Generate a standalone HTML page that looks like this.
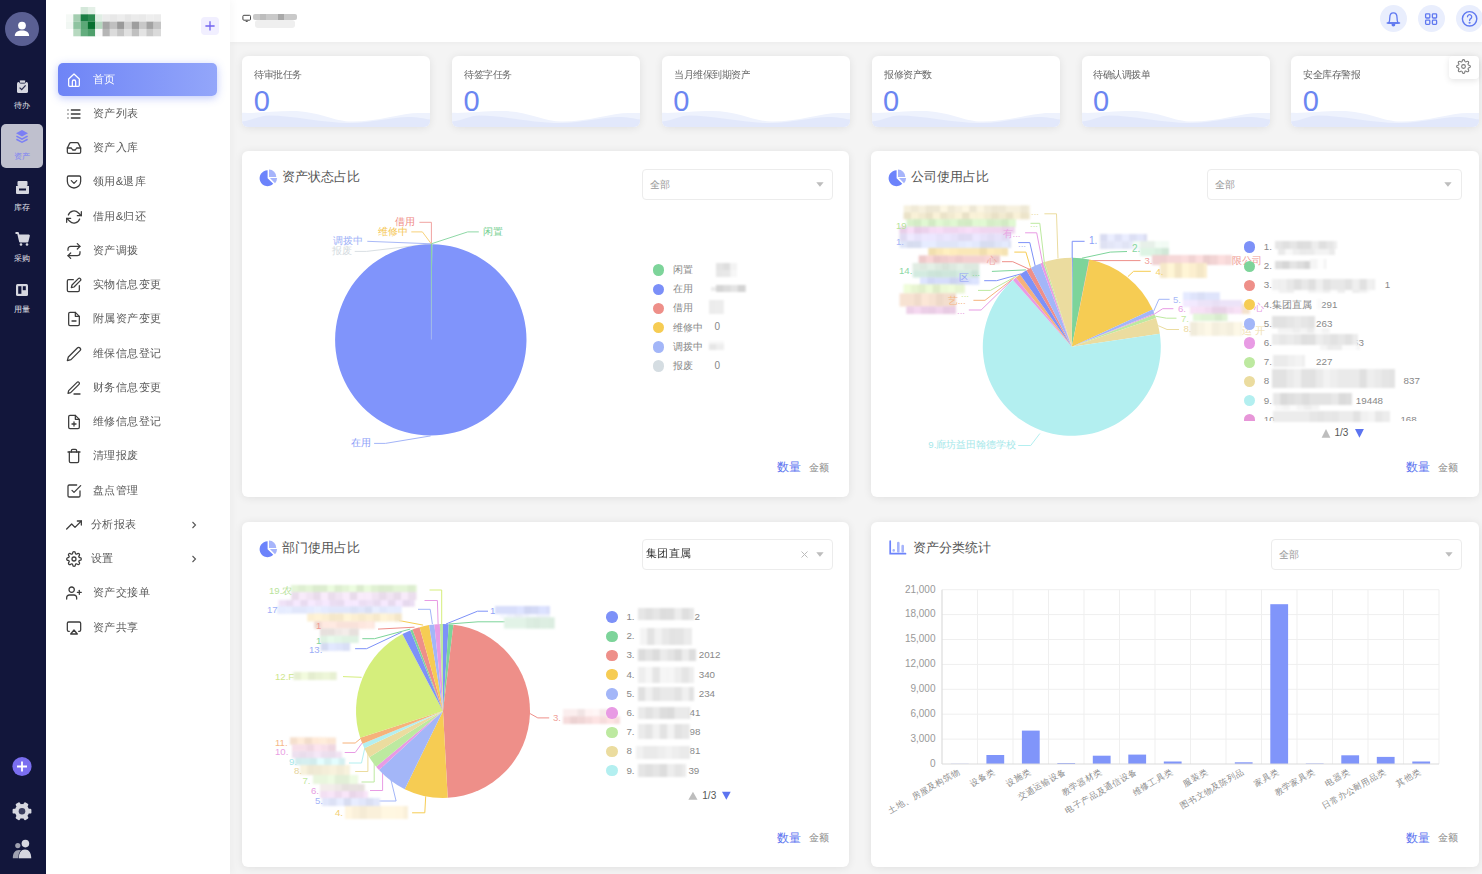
<!DOCTYPE html><html><head><meta charset="utf-8"><style>
*{box-sizing:border-box;margin:0;padding:0}
html,body{width:1482px;height:874px;overflow:hidden}
body{background:#f4f4f4;font-family:"Liberation Sans",sans-serif;position:relative}
.a{position:absolute}
.t{position:absolute;line-height:1;white-space:nowrap}
.rail{left:0;top:0;width:46px;height:874px;background:#12163b}
.side{left:46px;top:0;width:183.5px;height:874px;background:#fff;box-shadow:2px 0 8px rgba(0,0,0,0.035)}
.hdr{left:229.5px;top:0;width:1252.5px;height:42px;background:#fff;box-shadow:0 1px 5px rgba(0,0,0,0.04)}
.card{position:absolute;background:#fff;border-radius:6px;box-shadow:0 1px 9px rgba(0,0,0,0.085)}
.blob{position:absolute;filter:blur(1.2px)}
</style></head><body><div class="a hdr"></div><svg class="a" style="left:241px;top:13px" width="12" height="10" viewBox="0 0 12 10"><rect x="1.9" y="2.3" width="7.6" height="4.9" rx="1" fill="none" stroke="#444" stroke-width="1"/><path d="M4.7,8.4 H6.7" stroke="#444" stroke-width="1"/></svg><svg class="a" style="left:252px;top:13px;filter:blur(0.7px)" width="46" height="17" viewBox="0 0 46 17">
<rect x="1" y="1" width="44" height="6" rx="2" fill="#c9c9c9"/><rect x="8" y="1" width="6" height="6" fill="#bdbdbd"/><rect x="26" y="1" width="6" height="6" fill="#a8a8a8"/>
<rect x="3" y="7" width="40" height="8" rx="3" fill="#efefef"/></svg><div class="a" style="left:1379.9px;top:5.2px;width:27px;height:27px;border-radius:50%;background:#e9eefd"></div><div class="a" style="left:1417.8px;top:5.2px;width:27px;height:27px;border-radius:50%;background:#e9eefd"></div><div class="a" style="left:1456.2px;top:5.2px;width:27px;height:27px;border-radius:50%;background:#e9eefd"></div><svg class="a" style="left:1380px;top:5px" width="102" height="28" viewBox="1380 5 102 28" fill="none" stroke="#5f78f0" stroke-width="1.3" stroke-linecap="round" stroke-linejoin="round">
<path d="M1388.6,23 C1389.8,21.5 1389.8,20 1389.8,17.5 C1389.8,14.6 1391.3,12.8 1393.4,12.8 C1395.5,12.8 1397,14.6 1397,17.5 C1397,20 1397,21.5 1398.2,23 Z"/>
<path d="M1387.2,23 H1399.6"/><path d="M1392.1,24.6 a1.3,1.3 0 0 0 2.6,0 Z" fill="#5f78f0"/>
<rect x="1425.6" y="13.8" width="4.2" height="4.2" rx="0.8"/><rect x="1432.4" y="13.8" width="4.2" height="4.2" rx="0.8"/>
<rect x="1425.6" y="20.2" width="4.2" height="4.2" rx="0.8"/><rect x="1432.4" y="20.2" width="4.2" height="4.2" rx="0.8"/>
<circle cx="1469.6" cy="18.8" r="7.2" stroke-width="1.4"/>
<path d="M1467.5,16.8 a2.1,2.1 0 1 1 3.2,1.8 c-0.8,0.5 -1.1,0.9 -1.1,1.8"/>
<circle cx="1469.6" cy="22.7" r="0.4" fill="#5f78f0"/>
</svg><div class="a rail"></div><svg class="a" style="left:0;top:0" width="46" height="874" viewBox="0 0 46 874">
<circle cx="22" cy="29" r="17" fill="#5a5f93"/>
<circle cx="22" cy="25.6" r="3.9" fill="#fff"/>
<path d="M14.8,36 C14.8,32 18,30.5 22,30.5 C26,30.5 29.1,32 29.1,36 Z" fill="#fff"/>
<!-- clipboard -->
<rect x="17" y="82" width="11" height="11" rx="1.6" fill="#d6d7e0"/>
<rect x="19.5" y="80" width="6" height="3.2" rx="1" fill="#d6d7e0" stroke="#12163b" stroke-width="0.8"/>
<path d="M19.6,87.6 L21.7,89.6 L25.6,85.4" stroke="#2a2d4f" stroke-width="1.3" fill="none"/>
<!-- active box -->
<rect x="1" y="124" width="42" height="44" rx="5" fill="#bfc0ce"/>
<path d="M22,130 L28,133.2 L22,136.4 L16,133.2 Z" fill="#7b7ff5"/>
<path d="M16.8,135.4 L22,138.2 L27.2,135.4 L28,136.8 L22,140 L16,136.8 Z" fill="#7b7ff5"/>
<path d="M16.8,138.6 L22,141.4 L27.2,138.6 L28,140 L22,143 L16,140 Z" fill="#7b7ff5"/>
<!-- inbox -->
<rect x="17.5" y="181" width="10" height="5" rx="1" fill="#d6d7e0"/>
<path d="M16,186 H29 V193 a1,1 0 0 1 -1,1 H17 a1,1 0 0 1 -1,-1 Z" fill="#d6d7e0"/>
<rect x="19" y="188.5" width="7" height="2" fill="#12163b"/>
<!-- cart -->
<path d="M15.5,233 H18 L20,241.5 H27.5 L29,235.5 H19" stroke="#d6d7e0" stroke-width="1.8" fill="none" stroke-linejoin="round"/>
<path d="M18.8,235.5 H29 L27.6,241.5 H20 Z" fill="#d6d7e0"/>
<circle cx="21" cy="244.5" r="1.3" fill="#d6d7e0"/>
<circle cx="27" cy="244.5" r="1.3" fill="#d6d7e0"/>
<!-- board -->
<rect x="16" y="284" width="12" height="12" rx="1.5" fill="#d6d7e0"/>
<rect x="18.2" y="286.2" width="3.2" height="7.6" fill="#12163b"/>
<rect x="22.8" y="286.2" width="3" height="4" fill="#12163b"/>
<!-- bottom -->
<circle cx="22" cy="766.5" r="9.6" fill="#7a6ef0"/>
<path d="M22,761.5 V771.5 M17,766.5 H27" stroke="#fff" stroke-width="1.8"/>
<g fill="#d6d7e0" transform="translate(22,811.2) rotate(30)">
<circle cx="0" cy="0" r="7.2"/>
<rect x="-2.4" y="-9.4" width="4.8" height="4" rx="1.2"/>
<rect x="-2.4" y="-9.4" width="4.8" height="4" rx="1.2" transform="rotate(60)"/>
<rect x="-2.4" y="-9.4" width="4.8" height="4" rx="1.2" transform="rotate(120)"/>
<rect x="-2.4" y="-9.4" width="4.8" height="4" rx="1.2" transform="rotate(180)"/>
<rect x="-2.4" y="-9.4" width="4.8" height="4" rx="1.2" transform="rotate(240)"/>
<rect x="-2.4" y="-9.4" width="4.8" height="4" rx="1.2" transform="rotate(300)"/>
</g>
<circle cx="22" cy="811.2" r="3.3" fill="#3a3d5e"/>
<circle cx="17.8" cy="845.6" r="2.6" fill="#9fa1b0"/>
<path d="M12.8,858.2 C12.8,853 15,850 19,850 C21,850 22.5,851 23,852 L20,858.2 Z" fill="#9fa1b0"/>
<path d="M18.8,858.2 C18.8,852.6 21.4,849.4 25,849.4 C28.6,849.4 31.2,852.6 31.2,858.2 Z" fill="#d6d7e0" stroke="#12163b" stroke-width="1.2"/>
<path d="M18.8,858.2 C18.8,852.6 21.4,849.4 25,849.4 C28.6,849.4 31.2,852.6 31.2,858.2 Z" fill="#d6d7e0"/>
<circle cx="25.4" cy="843.6" r="3.8" fill="#d6d7e0"/>
</svg><div class="t" style="left:14px;top:102.2px;font-size:8px;color:#e3e4ec;width:18px;letter-spacing:0">待办</div><div class="t" style="left:14px;top:153px;font-size:8px;color:#7b7ff5;width:18px;letter-spacing:0">资产</div><div class="t" style="left:14px;top:203.6px;font-size:8px;color:#e3e4ec;width:18px;letter-spacing:0">库存</div><div class="t" style="left:14px;top:255.2px;font-size:8px;color:#e3e4ec;width:18px;letter-spacing:0">采购</div><div class="t" style="left:14px;top:305.8px;font-size:8px;color:#e3e4ec;width:18px;letter-spacing:0">用量</div><div class="a side"></div><svg class="a" style="left:66px;top:7.3px;filter:blur(0.5px)" width="96" height="30" viewBox="0 0 96 30"><rect x="14.6" y="0.0" width="7.4" height="7.4" fill="#d4e8da"/><rect x="21.9" y="0.0" width="7.4" height="7.4" fill="#e4f0e7"/><rect x="0.0" y="7.3" width="7.4" height="7.4" fill="#f5f9f6"/><rect x="7.3" y="7.3" width="7.4" height="7.4" fill="#a3cdb0"/><rect x="14.6" y="7.3" width="7.4" height="7.4" fill="#1b7e44"/><rect x="21.9" y="7.3" width="7.4" height="7.4" fill="#2d8b52"/><rect x="29.2" y="7.3" width="7.4" height="7.4" fill="#e0eee4"/><rect x="36.5" y="7.3" width="7.4" height="7.4" fill="#ececec"/><rect x="43.8" y="7.3" width="7.4" height="7.4" fill="#e8e8e8"/><rect x="51.1" y="7.3" width="7.4" height="7.4" fill="#ededed"/><rect x="58.4" y="7.3" width="7.4" height="7.4" fill="#e6e6e6"/><rect x="65.7" y="7.3" width="7.4" height="7.4" fill="#ebebeb"/><rect x="73.0" y="7.3" width="7.4" height="7.4" fill="#e9e9e9"/><rect x="80.3" y="7.3" width="7.4" height="7.4" fill="#eeeeee"/><rect x="87.6" y="7.3" width="7.4" height="7.4" fill="#ececec"/><rect x="0.0" y="14.6" width="7.4" height="7.4" fill="#f1f7f3"/><rect x="7.3" y="14.6" width="7.4" height="7.4" fill="#8ec3a0"/><rect x="14.6" y="14.6" width="7.4" height="7.4" fill="#5ba877"/><rect x="21.9" y="14.6" width="7.4" height="7.4" fill="#07702f"/><rect x="29.2" y="14.6" width="7.4" height="7.4" fill="#b5d8bf"/><rect x="36.5" y="14.6" width="7.4" height="7.4" fill="#a5a5a5"/><rect x="43.8" y="14.6" width="7.4" height="7.4" fill="#c0c0c0"/><rect x="51.1" y="14.6" width="7.4" height="7.4" fill="#9a9a9a"/><rect x="58.4" y="14.6" width="7.4" height="7.4" fill="#cfcfcf"/><rect x="65.7" y="14.6" width="7.4" height="7.4" fill="#9e9e9e"/><rect x="73.0" y="14.6" width="7.4" height="7.4" fill="#c8c8c8"/><rect x="80.3" y="14.6" width="7.4" height="7.4" fill="#a3a3a3"/><rect x="87.6" y="14.6" width="7.4" height="7.4" fill="#c5c5c5"/><rect x="7.3" y="21.9" width="7.4" height="7.4" fill="#b7d9c0"/><rect x="14.6" y="21.9" width="7.4" height="7.4" fill="#63ad7e"/><rect x="21.9" y="21.9" width="7.4" height="7.4" fill="#4e9f6b"/><rect x="29.2" y="21.9" width="7.4" height="7.4" fill="#f8f8f8"/><rect x="36.5" y="21.9" width="7.4" height="7.4" fill="#b5b5b5"/><rect x="43.8" y="21.9" width="7.4" height="7.4" fill="#dbdbdb"/><rect x="51.1" y="21.9" width="7.4" height="7.4" fill="#c5c5c5"/><rect x="58.4" y="21.9" width="7.4" height="7.4" fill="#e0e0e0"/><rect x="65.7" y="21.9" width="7.4" height="7.4" fill="#c0c0c0"/><rect x="73.0" y="21.9" width="7.4" height="7.4" fill="#e3e3e3"/><rect x="80.3" y="21.9" width="7.4" height="7.4" fill="#c9c9c9"/><rect x="87.6" y="21.9" width="7.4" height="7.4" fill="#dadada"/></svg><div class="a" style="left:201px;top:17px;width:17.5px;height:18px;background:#f1efff;border-radius:4px"></div><svg class="a" style="left:201px;top:17px" width="18" height="18" viewBox="0 0 18 18"><path d="M9,4.3V13.5M4.4,9H13.6" stroke="#7264ef" stroke-width="1.3"/></svg><div class="a" style="left:58px;top:63px;width:159px;height:33px;border-radius:5px;background:linear-gradient(90deg,#6e84f6,#93a6fa);box-shadow:0 2px 9px rgba(110,132,246,0.45)"></div><svg class="a" style="left:65.5px;top:71.7px" width="16" height="16" viewBox="0 0 24 24" fill="none" stroke="#fff" stroke-width="1.9" stroke-linecap="round" stroke-linejoin="round"><path d="M4 10.5L12 3l8 7.5V20a1.5 1.5 0 0 1-1.5 1.5h-13A1.5 1.5 0 0 1 4 20z"/><path d="M9.5 21.5V14.5a2.5 2.5 0 0 1 5 0v7"/></svg><div class="t" style="left:93px;top:72.7px;font-size:12px;color:#fff;transform:scale(0.95);transform-origin:0 0">首页</div><svg class="a" style="left:65.5px;top:105.9px" width="16" height="16" viewBox="0 0 24 24" fill="none" stroke="#3c3c3c" stroke-width="1.9" stroke-linecap="round" stroke-linejoin="round"><line x1="8" y1="6" x2="21" y2="6"/><line x1="8" y1="12" x2="21" y2="12"/><line x1="8" y1="18" x2="21" y2="18"/><line x1="3" y1="6" x2="3.01" y2="6"/><line x1="3" y1="12" x2="3.01" y2="12"/><line x1="3" y1="18" x2="3.01" y2="18"/></svg><div class="t" style="left:93px;top:106.9px;font-size:12px;color:#5a5a5a;transform:scale(0.95);transform-origin:0 0">资产列表</div><svg class="a" style="left:65.5px;top:140.2px" width="16" height="16" viewBox="0 0 24 24" fill="none" stroke="#3c3c3c" stroke-width="1.9" stroke-linecap="round" stroke-linejoin="round"><polyline points="22 12 16 12 14 15 10 15 8 12 2 12"/><path d="M5.45 5.11L2 12v6a2 2 0 0 0 2 2h16a2 2 0 0 0 2-2v-6l-3.45-6.89A2 2 0 0 0 16.76 4H7.24a2 2 0 0 0-1.79 1.11z"/></svg><div class="t" style="left:93px;top:141.2px;font-size:12px;color:#5a5a5a;transform:scale(0.95);transform-origin:0 0">资产入库</div><svg class="a" style="left:65.5px;top:174.4px" width="16" height="16" viewBox="0 0 24 24" fill="none" stroke="#3c3c3c" stroke-width="1.9" stroke-linecap="round" stroke-linejoin="round"><path d="M4 3h16a2 2 0 0 1 2 2v6a10 10 0 0 1-10 10A10 10 0 0 1 2 11V5a2 2 0 0 1 2-2z"/><polyline points="8 10 12 14 16 10"/></svg><div class="t" style="left:93px;top:175.4px;font-size:12px;color:#5a5a5a;transform:scale(0.95);transform-origin:0 0">领用&amp;退库</div><svg class="a" style="left:65.5px;top:208.7px" width="16" height="16" viewBox="0 0 24 24" fill="none" stroke="#3c3c3c" stroke-width="1.9" stroke-linecap="round" stroke-linejoin="round"><polyline points="23 4 23 10 17 10"/><polyline points="1 20 1 14 7 14"/><path d="M3.51 9a9 9 0 0 1 14.85-3.36L23 10M1 14l4.64 4.36A9 9 0 0 0 20.49 15"/></svg><div class="t" style="left:93px;top:209.7px;font-size:12px;color:#5a5a5a;transform:scale(0.95);transform-origin:0 0">借用&amp;归还</div><svg class="a" style="left:65.5px;top:242.9px" width="16" height="16" viewBox="0 0 24 24" fill="none" stroke="#3c3c3c" stroke-width="1.9" stroke-linecap="round" stroke-linejoin="round"><polyline points="17 1 21 5 17 9"/><path d="M3 11V9a4 4 0 0 1 4-4h14"/><polyline points="7 23 3 19 7 15"/><path d="M21 13v2a4 4 0 0 1-4 4H3"/></svg><div class="t" style="left:93px;top:243.9px;font-size:12px;color:#5a5a5a;transform:scale(0.95);transform-origin:0 0">资产调拨</div><svg class="a" style="left:65.5px;top:277.1px" width="16" height="16" viewBox="0 0 24 24" fill="none" stroke="#3c3c3c" stroke-width="1.9" stroke-linecap="round" stroke-linejoin="round"><path d="M11 4H4a2 2 0 0 0-2 2v14a2 2 0 0 0 2 2h14a2 2 0 0 0 2-2v-7"/><path d="M18.5 2.5a2.121 2.121 0 0 1 3 3L12 15l-4 1 1-4 9.5-9.5z"/></svg><div class="t" style="left:93px;top:278.1px;font-size:12px;color:#5a5a5a;transform:scale(0.95);transform-origin:0 0">实物信息变更</div><svg class="a" style="left:65.5px;top:311.4px" width="16" height="16" viewBox="0 0 24 24" fill="none" stroke="#3c3c3c" stroke-width="1.9" stroke-linecap="round" stroke-linejoin="round"><path d="M14 2H6a2 2 0 0 0-2 2v16a2 2 0 0 0 2 2h12a2 2 0 0 0 2-2V8z"/><polyline points="14 2 14 8 20 8"/><line x1="9" y1="15" x2="15" y2="15"/></svg><div class="t" style="left:93px;top:312.4px;font-size:12px;color:#5a5a5a;transform:scale(0.95);transform-origin:0 0">附属资产变更</div><svg class="a" style="left:65.5px;top:345.6px" width="16" height="16" viewBox="0 0 24 24" fill="none" stroke="#3c3c3c" stroke-width="1.9" stroke-linecap="round" stroke-linejoin="round"><path d="M17 3a2.828 2.828 0 1 1 4 4L7.5 20.5 2 22l1.5-5.5L17 3z"/></svg><div class="t" style="left:93px;top:346.6px;font-size:12px;color:#5a5a5a;transform:scale(0.95);transform-origin:0 0">维保信息登记</div><svg class="a" style="left:65.5px;top:379.9px" width="16" height="16" viewBox="0 0 24 24" fill="none" stroke="#3c3c3c" stroke-width="1.9" stroke-linecap="round" stroke-linejoin="round"><path d="M12 21h9"/><path d="M16.5 3.5a2.121 2.121 0 0 1 3 3L7 19l-4 1 1-4L16.5 3.5z"/></svg><div class="t" style="left:93px;top:380.9px;font-size:12px;color:#5a5a5a;transform:scale(0.95);transform-origin:0 0">财务信息变更</div><svg class="a" style="left:65.5px;top:414.1px" width="16" height="16" viewBox="0 0 24 24" fill="none" stroke="#3c3c3c" stroke-width="1.9" stroke-linecap="round" stroke-linejoin="round"><path d="M14 2H6a2 2 0 0 0-2 2v16a2 2 0 0 0 2 2h12a2 2 0 0 0 2-2V8z"/><polyline points="14 2 14 8 20 8"/><line x1="12" y1="18" x2="12" y2="12"/><line x1="9" y1="15" x2="15" y2="15"/></svg><div class="t" style="left:93px;top:415.1px;font-size:12px;color:#5a5a5a;transform:scale(0.95);transform-origin:0 0">维修信息登记</div><svg class="a" style="left:65.5px;top:448.3px" width="16" height="16" viewBox="0 0 24 24" fill="none" stroke="#3c3c3c" stroke-width="1.9" stroke-linecap="round" stroke-linejoin="round"><path d="M3 6h18"/><path d="M19 6v14a2 2 0 0 1-2 2H7a2 2 0 0 1-2-2V6m3 0V4a2 2 0 0 1 2-2h4a2 2 0 0 1 2 2v2"/></svg><div class="t" style="left:93px;top:449.3px;font-size:12px;color:#5a5a5a;transform:scale(0.95);transform-origin:0 0">清理报废</div><svg class="a" style="left:65.5px;top:482.6px" width="16" height="16" viewBox="0 0 24 24" fill="none" stroke="#3c3c3c" stroke-width="1.9" stroke-linecap="round" stroke-linejoin="round"><polyline points="9 11 12 14 22 4"/><path d="M21 12v7a2 2 0 0 1-2 2H5a2 2 0 0 1-2-2V5a2 2 0 0 1 2-2h11"/></svg><div class="t" style="left:93px;top:483.6px;font-size:12px;color:#5a5a5a;transform:scale(0.95);transform-origin:0 0">盘点管理</div><svg class="a" style="left:65.5px;top:516.8px" width="16" height="16" viewBox="0 0 24 24" fill="none" stroke="#3c3c3c" stroke-width="1.9" stroke-linecap="round" stroke-linejoin="round"><polyline points="23 6 13.5 15.5 8.5 10.5 1 18"/><polyline points="17 6 23 6 23 12"/></svg><div class="t" style="left:90.5px;top:517.8px;font-size:12px;color:#5a5a5a;transform:scale(0.95);transform-origin:0 0">分析报表</div><svg class="a" style="left:190px;top:519.8px" width="8" height="10" viewBox="0 0 8 10"><path d="M2.5,2 L5.5,5 L2.5,8" stroke="#555" stroke-width="1.1" fill="none"/></svg><svg class="a" style="left:65.5px;top:551.1px" width="16" height="16" viewBox="0 0 24 24" fill="none" stroke="#3c3c3c" stroke-width="1.9" stroke-linecap="round" stroke-linejoin="round"><circle cx="12" cy="12" r="3"/><path d="M19.4 15a1.65 1.65 0 0 0 .33 1.82l.06.06a2 2 0 0 1 0 2.83 2 2 0 0 1-2.83 0l-.06-.06a1.65 1.65 0 0 0-1.82-.33 1.65 1.65 0 0 0-1 1.51V21a2 2 0 0 1-2 2 2 2 0 0 1-2-2v-.09A1.65 1.65 0 0 0 9 19.4a1.65 1.65 0 0 0-1.82.33l-.06.06a2 2 0 0 1-2.83 0 2 2 0 0 1 0-2.83l.06-.06a1.65 1.65 0 0 0 .33-1.82 1.65 1.65 0 0 0-1.51-1H3a2 2 0 0 1-2-2 2 2 0 0 1 2-2h.09A1.65 1.65 0 0 0 4.6 9a1.65 1.65 0 0 0-.33-1.82l-.06-.06a2 2 0 0 1 0-2.83 2 2 0 0 1 2.83 0l.06.06a1.65 1.65 0 0 0 1.82.33H9a1.65 1.65 0 0 0 1-1.51V3a2 2 0 0 1 2-2 2 2 0 0 1 2 2v.09a1.65 1.65 0 0 0 1 1.51 1.65 1.65 0 0 0 1.82-.33l.06-.06a2 2 0 0 1 2.83 0 2 2 0 0 1 0 2.83l-.06.06a1.65 1.65 0 0 0-.33 1.82V9a1.65 1.65 0 0 0 1.51 1H21a2 2 0 0 1 2 2 2 2 0 0 1-2 2h-.09a1.65 1.65 0 0 0-1.51 1z"/></svg><div class="t" style="left:90.5px;top:552.1px;font-size:12px;color:#5a5a5a;transform:scale(0.95);transform-origin:0 0">设置</div><svg class="a" style="left:190px;top:554.1px" width="8" height="10" viewBox="0 0 8 10"><path d="M2.5,2 L5.5,5 L2.5,8" stroke="#555" stroke-width="1.1" fill="none"/></svg><svg class="a" style="left:65.5px;top:585.3px" width="16" height="16" viewBox="0 0 24 24" fill="none" stroke="#3c3c3c" stroke-width="1.9" stroke-linecap="round" stroke-linejoin="round"><path d="M16 21v-2a4 4 0 0 0-4-4H5a4 4 0 0 0-4 4v2"/><circle cx="8.5" cy="7" r="4"/><line x1="20" y1="8" x2="20" y2="14"/><line x1="23" y1="11" x2="17" y2="11"/></svg><div class="t" style="left:93px;top:586.3px;font-size:12px;color:#5a5a5a;transform:scale(0.95);transform-origin:0 0">资产交接单</div><svg class="a" style="left:65.5px;top:619.5px" width="16" height="16" viewBox="0 0 24 24" fill="none" stroke="#3c3c3c" stroke-width="1.9" stroke-linecap="round" stroke-linejoin="round"><path d="M5 17H4a2 2 0 0 1-2-2V5a2 2 0 0 1 2-2h16a2 2 0 0 1 2 2v10a2 2 0 0 1-2 2h-1"/><polygon points="12 15 17 21 7 21 12 15"/></svg><div class="t" style="left:93px;top:620.5px;font-size:12px;color:#5a5a5a;transform:scale(0.95);transform-origin:0 0">资产共享</div><div class="card" style="left:242.4px;top:56px;width:188px;height:70.8px;overflow:hidden;border-radius:6px"><svg style="position:absolute;left:0;top:0" width="188" height="71" viewBox="0 0 188 71" preserveAspectRatio="none"><path d="M0,56.8 C14,57.5 30,55 50,55 C76,55 92,65.6 110,65.6 C136,65.6 160,57 177,57 L188,57 V71 H0 Z" fill="#eef2fd"/><path d="M0,65.6 C10,64.5 18,59.5 27,59.5 C50,59.5 82,67 108,67 C130,67 150,61 166,61 C176,61 182,62.5 188,63.6 V71 H0 Z" fill="#e2e8fb"/></svg><div class="t" style="left:11.9px;top:13.9px;font-size:10px;color:#666;transform:scale(0.95);transform-origin:0 0">待审批任务</div><div class="t" style="left:11.3px;top:30.9px;font-size:29px;color:#6b86f1;">0</div></div><div class="card" style="left:452.2px;top:56px;width:188px;height:70.8px;overflow:hidden;border-radius:6px"><svg style="position:absolute;left:0;top:0" width="188" height="71" viewBox="0 0 188 71" preserveAspectRatio="none"><path d="M0,56.8 C14,57.5 30,55 50,55 C76,55 92,65.6 110,65.6 C136,65.6 160,57 177,57 L188,57 V71 H0 Z" fill="#eef2fd"/><path d="M0,65.6 C10,64.5 18,59.5 27,59.5 C50,59.5 82,67 108,67 C130,67 150,61 166,61 C176,61 182,62.5 188,63.6 V71 H0 Z" fill="#e2e8fb"/></svg><div class="t" style="left:11.9px;top:13.9px;font-size:10px;color:#666;transform:scale(0.95);transform-origin:0 0">待签字任务</div><div class="t" style="left:11.3px;top:30.9px;font-size:29px;color:#6b86f1;">0</div></div><div class="card" style="left:662.0px;top:56px;width:188px;height:70.8px;overflow:hidden;border-radius:6px"><svg style="position:absolute;left:0;top:0" width="188" height="71" viewBox="0 0 188 71" preserveAspectRatio="none"><path d="M0,56.8 C14,57.5 30,55 50,55 C76,55 92,65.6 110,65.6 C136,65.6 160,57 177,57 L188,57 V71 H0 Z" fill="#eef2fd"/><path d="M0,65.6 C10,64.5 18,59.5 27,59.5 C50,59.5 82,67 108,67 C130,67 150,61 166,61 C176,61 182,62.5 188,63.6 V71 H0 Z" fill="#e2e8fb"/></svg><div class="t" style="left:11.9px;top:13.9px;font-size:10px;color:#666;transform:scale(0.95);transform-origin:0 0">当月维保到期资产</div><div class="t" style="left:11.3px;top:30.9px;font-size:29px;color:#6b86f1;">0</div></div><div class="card" style="left:871.8px;top:56px;width:188px;height:70.8px;overflow:hidden;border-radius:6px"><svg style="position:absolute;left:0;top:0" width="188" height="71" viewBox="0 0 188 71" preserveAspectRatio="none"><path d="M0,56.8 C14,57.5 30,55 50,55 C76,55 92,65.6 110,65.6 C136,65.6 160,57 177,57 L188,57 V71 H0 Z" fill="#eef2fd"/><path d="M0,65.6 C10,64.5 18,59.5 27,59.5 C50,59.5 82,67 108,67 C130,67 150,61 166,61 C176,61 182,62.5 188,63.6 V71 H0 Z" fill="#e2e8fb"/></svg><div class="t" style="left:11.9px;top:13.9px;font-size:10px;color:#666;transform:scale(0.95);transform-origin:0 0">报修资产数</div><div class="t" style="left:11.3px;top:30.9px;font-size:29px;color:#6b86f1;">0</div></div><div class="card" style="left:1081.6px;top:56px;width:188px;height:70.8px;overflow:hidden;border-radius:6px"><svg style="position:absolute;left:0;top:0" width="188" height="71" viewBox="0 0 188 71" preserveAspectRatio="none"><path d="M0,56.8 C14,57.5 30,55 50,55 C76,55 92,65.6 110,65.6 C136,65.6 160,57 177,57 L188,57 V71 H0 Z" fill="#eef2fd"/><path d="M0,65.6 C10,64.5 18,59.5 27,59.5 C50,59.5 82,67 108,67 C130,67 150,61 166,61 C176,61 182,62.5 188,63.6 V71 H0 Z" fill="#e2e8fb"/></svg><div class="t" style="left:11.9px;top:13.9px;font-size:10px;color:#666;transform:scale(0.95);transform-origin:0 0">待确认调拨单</div><div class="t" style="left:11.3px;top:30.9px;font-size:29px;color:#6b86f1;">0</div></div><div class="card" style="left:1291.4px;top:56px;width:188px;height:70.8px;overflow:hidden;border-radius:6px"><svg style="position:absolute;left:0;top:0" width="188" height="71" viewBox="0 0 188 71" preserveAspectRatio="none"><path d="M0,56.8 C14,57.5 30,55 50,55 C76,55 92,65.6 110,65.6 C136,65.6 160,57 177,57 L188,57 V71 H0 Z" fill="#eef2fd"/><path d="M0,65.6 C10,64.5 18,59.5 27,59.5 C50,59.5 82,67 108,67 C130,67 150,61 166,61 C176,61 182,62.5 188,63.6 V71 H0 Z" fill="#e2e8fb"/></svg><div class="t" style="left:11.9px;top:13.9px;font-size:10px;color:#666;transform:scale(0.95);transform-origin:0 0">安全库存警报</div><div class="t" style="left:11.3px;top:30.9px;font-size:29px;color:#6b86f1;">0</div></div><div class="a" style="left:1449px;top:56px;width:30px;height:23px;background:#fff;border-radius:4px;box-shadow:0 2px 6px rgba(0,0,0,0.10)"></div><svg class="a" style="left:1456px;top:59.3px" width="15" height="15" viewBox="0 0 24 24" fill="none" stroke="#777" stroke-width="1.7" stroke-linejoin="round"><circle cx="12" cy="12" r="3"/><path d="M19.4 15a1.65 1.65 0 0 0 .33 1.82l.06.06a2 2 0 0 1 0 2.83 2 2 0 0 1-2.83 0l-.06-.06a1.65 1.65 0 0 0-1.82-.33 1.65 1.65 0 0 0-1 1.51V21a2 2 0 0 1-2 2 2 2 0 0 1-2-2v-.09A1.65 1.65 0 0 0 9 19.4a1.650 1.65 0 0 0-1.82.33l-.06.06a2 2 0 0 1-2.83 0 2 2 0 0 1 0-2.83l.06-.06a1.65 1.65 0 0 0 .33-1.82 1.65 1.65 0 0 0-1.51-1H3a2 2 0 0 1-2-2 2 2 0 0 1 2-2h.09A1.65 1.65 0 0 0 4.6 9a1.65 1.65 0 0 0-.33-1.82l-.06-.06a2 2 0 0 1 0-2.83 2 2 0 0 1 2.83 0l.06.06a1.65 1.65 0 0 0 1.82.33H9a1.65 1.65 0 0 0 1-1.51V3a2 2 0 0 1 2-2 2 2 0 0 1 2 2v.09a1.65 1.65 0 0 0 1 1.51 1.65 1.65 0 0 0 1.82-.33l.06-.06a2 2 0 0 1 2.83 0 2 2 0 0 1 0 2.83l-.06.06a1.65 1.65 0 0 0-.33 1.82V9a1.65 1.65 0 0 0 1.51 1H21a2 2 0 0 1 2 2 2 2 0 0 1-2 2h-.09a1.65 1.65 0 0 0-1.51 1z"/></svg><div class="card" style="left:242.3px;top:151.3px;width:607.2px;height:345.5px"></div><svg class="a" style="left:258.1px;top:167.3px" width="20" height="20" viewBox="0 0 20 20">
<path d="M9.6,11.2 L9.6,3.2 A8,8 0 1 0 15.26,16.86 Z" fill="#6c83fb"/>
<path d="M11,9.9 V2.6 A7.3,7.3 0 0 1 18.3,9.9 Z" fill="#a6b4fb"/>
<path d="M11.9,11.1 H19.1 A7.3,7.3 0 0 1 17.0,16.2 Z" fill="#a6b4fb"/>
</svg><div class="t" style="left:282.3px;top:170.10000000000002px;font-size:13px;color:#555;">资产状态占比</div><div class="a" style="left:642px;top:168.5px;width:191px;height:31px;border:1px solid #ececec;border-radius:4px"></div><svg class="a" style="left:815.7px;top:181.70000000000002px" width="8" height="5" viewBox="0 0 8 5"><path d="M0.3,0.3 H7.6 L3.95,4.7 Z" fill="#bdbdbd"/></svg><div class="t" style="left:650px;top:179.9px;font-size:9.5px;color:#999;">全部</div><div class="t" style="left:777.1px;top:461.40000000000003px;font-size:11.6px;color:#5c74f0;">数量</div><div class="t" style="left:808.5px;top:463.2px;font-size:9.5px;color:#888;">金额</div><div class="card" style="left:871.3px;top:151.3px;width:607.5px;height:345.5px"></div><svg class="a" style="left:887.0999999999999px;top:167.3px" width="20" height="20" viewBox="0 0 20 20">
<path d="M9.6,11.2 L9.6,3.2 A8,8 0 1 0 15.26,16.86 Z" fill="#6c83fb"/>
<path d="M11,9.9 V2.6 A7.3,7.3 0 0 1 18.3,9.9 Z" fill="#a6b4fb"/>
<path d="M11.9,11.1 H19.1 A7.3,7.3 0 0 1 17.0,16.2 Z" fill="#a6b4fb"/>
</svg><div class="t" style="left:911.3px;top:170.10000000000002px;font-size:13px;color:#555;">公司使用占比</div><div class="a" style="left:1207px;top:168.5px;width:254.5px;height:31px;border:1px solid #ececec;border-radius:4px"></div><svg class="a" style="left:1444.2px;top:181.70000000000002px" width="8" height="5" viewBox="0 0 8 5"><path d="M0.3,0.3 H7.6 L3.95,4.7 Z" fill="#bdbdbd"/></svg><div class="t" style="left:1215px;top:179.9px;font-size:9.5px;color:#999;">全部</div><div class="t" style="left:1406.3999999999999px;top:461.40000000000003px;font-size:11.6px;color:#5c74f0;">数量</div><div class="t" style="left:1437.8px;top:463.2px;font-size:9.5px;color:#888;">金额</div><div class="card" style="left:242.3px;top:521.7px;width:607.2px;height:345.3px"></div><svg class="a" style="left:258.1px;top:537.7px" width="20" height="20" viewBox="0 0 20 20">
<path d="M9.6,11.2 L9.6,3.2 A8,8 0 1 0 15.26,16.86 Z" fill="#6c83fb"/>
<path d="M11,9.9 V2.6 A7.3,7.3 0 0 1 18.3,9.9 Z" fill="#a6b4fb"/>
<path d="M11.9,11.1 H19.1 A7.3,7.3 0 0 1 17.0,16.2 Z" fill="#a6b4fb"/>
</svg><div class="t" style="left:282.3px;top:540.5px;font-size:13px;color:#555;">部门使用占比</div><div class="a" style="left:642px;top:538.9000000000001px;width:191px;height:31px;border:1px solid #ececec;border-radius:4px"></div><svg class="a" style="left:815.7px;top:552.1px" width="8" height="5" viewBox="0 0 8 5"><path d="M0.3,0.3 H7.6 L3.95,4.7 Z" fill="#bdbdbd"/></svg><div class="t" style="left:646px;top:548.0px;font-size:12px;color:#333;transform:scale(0.94);transform-origin:0 0">集团直属</div><svg class="a" style="left:801px;top:550.7px" width="7" height="7" viewBox="0 0 7 7"><path d="M0.5,0.5 L6.5,6.5 M6.5,0.5 L0.5,6.5" stroke="#bbb" stroke-width="1"/></svg><div class="t" style="left:777.1px;top:831.6px;font-size:11.6px;color:#5c74f0;">数量</div><div class="t" style="left:808.5px;top:833.4px;font-size:9.5px;color:#888;">金额</div><div class="card" style="left:871.3px;top:521.7px;width:607.5px;height:345.3px"></div><svg class="a" style="left:888.3px;top:538.7px" width="20" height="20" viewBox="0 0 20 20" stroke-linecap="round">
<path d="M2.2,2.2 V14.7 H17.5" stroke="#6c83fb" stroke-width="1.7" fill="none"/>
<path d="M5.7,11.4 V11.5 M10.3,4.0 V12.4 M14.7,7.0 V12.4" stroke="#a6b4fb" stroke-width="2.6"/>
</svg><div class="t" style="left:912.9px;top:540.5px;font-size:13px;color:#555;">资产分类统计</div><div class="a" style="left:1271px;top:538.9000000000001px;width:191px;height:31px;border:1px solid #ececec;border-radius:4px"></div><svg class="a" style="left:1444.7px;top:552.1px" width="8" height="5" viewBox="0 0 8 5"><path d="M0.3,0.3 H7.6 L3.95,4.7 Z" fill="#bdbdbd"/></svg><div class="t" style="left:1279px;top:550.3000000000001px;font-size:9.5px;color:#999;">全部</div><div class="t" style="left:1406.3999999999999px;top:831.6px;font-size:11.6px;color:#5c74f0;">数量</div><div class="t" style="left:1437.8px;top:833.4px;font-size:9.5px;color:#888;">金额</div><svg class="a" style="left:0;top:0" width="1482" height="874" viewBox="0 0 1482 874"><polyline points="354.7,251.4 366.6,251.4 431.3,243.8" fill="none" stroke="#d9dfe3" stroke-width="1"/><polyline points="367.3,241.3 431.3,243.8" fill="none" stroke="#a9b9f7" stroke-width="1"/><path d="M431.25,339.85L432.25,244.16A95.7,95.7 0 1 1 431.25,244.15Z" fill="#8094fb"/><path d="M431.25,339.85L431.25,244.15A95.7,95.7 0 0 1 432.25,244.16Z" fill="#7dd49a"/><defs><linearGradient id="gl" x1="0" y1="0" x2="0" y2="1"><stop offset="0" stop-color="#84d09c"/><stop offset="1" stop-color="#a9b8f5"/></linearGradient></defs><rect x="430.9" y="244" width="1" height="95.5" fill="url(#gl)" opacity="0.9"/><polyline points="419.4,222.3 431.4,222.3 431.4,243.8" fill="none" stroke="#f1a3a0" stroke-width="1"/><polyline points="411.3,231.9 422.4,231.9 431.3,243.8" fill="none" stroke="#f7d27a" stroke-width="1"/><polyline points="431.3,243.8 467.7,231.9 478.8,231.9" fill="none" stroke="#8ed8a6" stroke-width="1"/><polyline points="374.1,443.4 385.4,443.4 430.7,435.9" fill="none" stroke="#a3b4f8" stroke-width="1"/></svg><div class="t" style="left:395.3px;top:217px;font-size:9.6px;color:#ef8a84;">借用</div><div class="t" style="left:377.5px;top:226.5px;font-size:9.6px;color:#f5c651;">维修中</div><div class="t" style="left:483px;top:227px;font-size:9.6px;color:#76d092;">闲置</div><div class="t" style="left:333.3px;top:236px;font-size:9.6px;color:#a0b2f7;">调拨中</div><div class="t" style="left:331.6px;top:246.3px;font-size:9.6px;color:#d5dbe0;">报废</div><div class="t" style="left:350.5px;top:438px;font-size:9.6px;color:#8a9cf8;">在用</div><div class="a" style="left:653.0px;top:264.4px;width:11.4px;height:11.4px;border-radius:50%;background:#7dd49a"></div><div class="t" style="left:672.5px;top:264.9px;font-size:9.8px;color:#888;">闲置</div><div class="a" style="left:653.0px;top:283.6px;width:11.4px;height:11.4px;border-radius:50%;background:#7b8ff8"></div><div class="t" style="left:672.5px;top:284.1px;font-size:9.8px;color:#888;">在用</div><div class="a" style="left:653.0px;top:302.8px;width:11.4px;height:11.4px;border-radius:50%;background:#ee8f89"></div><div class="t" style="left:672.5px;top:303.3px;font-size:9.8px;color:#888;">借用</div><div class="a" style="left:653.0px;top:322.0px;width:11.4px;height:11.4px;border-radius:50%;background:#f6cc53"></div><div class="t" style="left:672.5px;top:322.5px;font-size:9.8px;color:#888;">维修中</div><div class="a" style="left:653.0px;top:341.2px;width:11.4px;height:11.4px;border-radius:50%;background:#a3b6f8"></div><div class="t" style="left:672.5px;top:341.7px;font-size:9.8px;color:#888;">调拨中</div><div class="a" style="left:653.0px;top:360.4px;width:11.4px;height:11.4px;border-radius:50%;background:#d5dde2"></div><div class="t" style="left:672.5px;top:360.9px;font-size:9.8px;color:#888;">报废</div><div class="t" style="left:714.6px;top:321.7px;font-size:10px;color:#888;">0</div><div class="t" style="left:714.6px;top:360.9px;font-size:10px;color:#888;">0</div><svg class="a" style="left:0;top:0;filter:blur(0.8px)" width="1482" height="874" viewBox="0 0 1482 874"><rect x="716.0" y="263.0" width="14.0" height="7.0" fill="#e4e4e4"/><rect x="723.3" y="263.0" width="6.7" height="7.0" fill="#dedede"/><rect x="730.0" y="263.0" width="7.0" height="7.0" fill="#f3f3f3"/><rect x="716.0" y="270.0" width="21.0" height="7.0" fill="#f0f0f0"/><rect x="716.0" y="270.0" width="7.3" height="7.0" fill="#e7e7e7"/><rect x="723.3" y="270.0" width="7.3" height="7.0" fill="#e8e8e8"/><rect x="730.6" y="270.0" width="6.4" height="7.0" fill="#f7f7f7"/><rect x="716.0" y="285.0" width="30.0" height="7.0" fill="#dcdcdc"/><rect x="716.0" y="285.0" width="7.3" height="7.0" fill="#d5d5d5"/><rect x="730.6" y="285.0" width="7.3" height="7.0" fill="#e4e4e4"/><rect x="737.9" y="285.0" width="7.3" height="7.0" fill="#d3d3d3"/><rect x="745.2" y="285.0" width="0.8" height="7.0" fill="#e2e2e2"/><rect x="711.0" y="287.0" width="5.0" height="4.0" fill="#f0f0f0"/><rect x="711.0" y="287.0" width="5.0" height="4.0" fill="#ececec"/><rect x="709.0" y="300.0" width="15.0" height="14.0" fill="#f5f5f5"/><rect x="709.0" y="300.0" width="7.3" height="14.0" fill="#ececec"/><rect x="716.3" y="300.0" width="7.3" height="14.0" fill="#ededed"/><rect x="709.0" y="341.0" width="15.0" height="3.0" fill="#f7f7f7"/><rect x="709.0" y="344.0" width="15.0" height="6.0" fill="#eeeeee"/><rect x="709.0" y="344.0" width="7.3" height="6.0" fill="#e6e6e6"/></svg><svg class="a" style="left:0;top:0" width="1482" height="874" viewBox="0 0 1482 874"><polyline points="1044.4,213.8 1056.5,213.8 1058.0,258.3" fill="none" stroke="#ebdc9f" stroke-width="1"/><polyline points="1030.5,223.3 1039.8,223.3 1044.4,263.0" fill="none" stroke="#bde9a0" stroke-width="1"/><polyline points="1025.1,232.8 1036.7,232.8 1042.9,264.5" fill="none" stroke="#e89be4" stroke-width="1"/><polyline points="1018.2,242.6 1029.8,242.6 1035.2,266.0" fill="none" stroke="#7d91f8" stroke-width="1"/><polyline points="1014.3,252.1 1025.9,252.1 1030.5,267.6" fill="none" stroke="#f6cc53" stroke-width="1"/><polyline points="1002.0,261.7 1012.8,261.7 1029.0,269.1" fill="none" stroke="#ee8f89" stroke-width="1"/><polyline points="991.9,271.4 1025.9,269.9" fill="none" stroke="#7dd49a" stroke-width="1"/><polyline points="984.2,280.7 996.6,280.7 1021.3,273.8" fill="none" stroke="#7d91f8" stroke-width="1"/><polyline points="978.0,290.4 990.4,290.4 1016.6,276.1" fill="none" stroke="#bde9a0" stroke-width="1"/><polyline points="973.4,300.3 985.0,300.3 1013.5,278.4" fill="none" stroke="#f6b27b" stroke-width="1"/><polyline points="968.8,310.0 981.1,310.0 1012.0,280.0" fill="none" stroke="#e89be4" stroke-width="1"/><polyline points="1072.2,258.0 1072.2,241.3 1084.6,241.3" fill="none" stroke="#7d91f8" stroke-width="1"/><polyline points="1081.9,258.2 1110.2,252.1 1127.0,251.5" fill="none" stroke="#7dd49a" stroke-width="1"/><polyline points="1089.0,260.6 1140.5,260.6" fill="none" stroke="#ee8f89" stroke-width="1"/><polyline points="1127.9,276.6 1133.6,271.3 1150.8,271.3" fill="none" stroke="#f6cc53" stroke-width="1"/><polyline points="1153.5,311.5 1158.9,299.3 1169.6,299.3" fill="none" stroke="#a3b6f8" stroke-width="1"/><polyline points="1154.5,314.0 1162.7,308.7 1173.4,308.7" fill="none" stroke="#e89be4" stroke-width="1"/><polyline points="1155.4,316.2 1166.4,318.2 1176.5,318.2" fill="none" stroke="#bde9a0" stroke-width="1"/><polyline points="1158.3,325.7 1167.0,329.5 1179.0,329.5" fill="none" stroke="#ebdc9f" stroke-width="1"/><polyline points="1039.9,433.5 1030.7,445.5 1018.2,445.5" fill="none" stroke="#b3eff0" stroke-width="1"/><path d="M1071.80,346.80L1071.80,257.80A89,89 0 0 1 1072.89,257.81Z" fill="#7d91f8"/><path d="M1071.80,346.80L1072.89,257.81A89,89 0 0 1 1089.09,259.49Z" fill="#7dd49a"/><path d="M1071.80,346.80L1089.09,259.49A89,89 0 0 1 1089.54,259.59Z" fill="#ee8f89"/><path d="M1071.80,346.80L1089.54,259.59A89,89 0 0 1 1152.59,309.47Z" fill="#f6cc53"/><path d="M1071.80,346.80L1152.59,309.47A89,89 0 0 1 1154.32,313.46Z" fill="#a3b6f8"/><path d="M1071.80,346.80L1154.32,313.46A89,89 0 0 1 1154.72,314.47Z" fill="#e89be4"/><path d="M1071.80,346.80L1154.72,314.47A89,89 0 0 1 1156.00,317.97Z" fill="#bde9a0"/><path d="M1071.80,346.80L1156.00,317.97A89,89 0 0 1 1159.82,333.64Z" fill="#ebdc9f"/><path d="M1071.80,346.80L1159.82,333.64A89,89 0 1 1 1012.94,280.04Z" fill="#b3eff0"/><path d="M1071.80,346.80L1012.94,280.04A89,89 0 0 1 1015.91,277.54Z" fill="#e89be4"/><path d="M1071.80,346.80L1015.91,277.54A89,89 0 0 1 1019.99,274.43Z" fill="#f6b27b"/><path d="M1071.80,346.80L1019.99,274.43A89,89 0 0 1 1026.50,270.19Z" fill="#7d91f8"/><path d="M1071.80,346.80L1026.50,270.19A89,89 0 0 1 1030.98,267.71Z" fill="#ee8f89"/><path d="M1071.80,346.80L1030.98,267.71A89,89 0 0 1 1040.49,263.49Z" fill="#a3b6f8"/><path d="M1071.80,346.80L1040.49,263.49A89,89 0 0 1 1042.97,262.60Z" fill="#e89be4"/><path d="M1071.80,346.80L1042.97,262.60A89,89 0 0 1 1044.45,262.11Z" fill="#bde9a0"/><path d="M1071.80,346.80L1044.45,262.11A89,89 0 0 1 1071.80,257.80Z" fill="#ebdc9f"/></svg><svg class="a" style="left:0;top:0;filter:blur(1.2px)" width="1482" height="874" viewBox="0 0 1482 874"><rect x="903.7" y="205.5" width="126.3" height="7.0" fill="#f6f0dd"/><rect x="911.0" y="205.5" width="7.3" height="7.0" fill="#f0ead7"/><rect x="925.6" y="205.5" width="7.3" height="7.0" fill="#ede7d4"/><rect x="932.9" y="205.5" width="7.3" height="7.0" fill="#eee8d5"/><rect x="940.2" y="205.5" width="7.3" height="7.0" fill="#fdf7e4"/><rect x="947.5" y="205.5" width="7.3" height="7.0" fill="#efe9d6"/><rect x="962.1" y="205.5" width="7.3" height="7.0" fill="#fef8e5"/><rect x="969.4" y="205.5" width="7.3" height="7.0" fill="#ede7d4"/><rect x="976.7" y="205.5" width="7.3" height="7.0" fill="#fcf6e3"/><rect x="984.0" y="205.5" width="7.3" height="7.0" fill="#f2ecd9"/><rect x="991.3" y="205.5" width="7.3" height="7.0" fill="#ede7d4"/><rect x="998.6" y="205.5" width="7.3" height="7.0" fill="#eee8d5"/><rect x="1020.5" y="205.5" width="7.3" height="7.0" fill="#eee8d5"/><rect x="903.7" y="212.5" width="126.3" height="6.7" fill="#f2ead0"/><rect x="903.7" y="212.5" width="7.3" height="6.7" fill="#eae2c8"/><rect x="911.0" y="212.5" width="7.3" height="6.7" fill="#f9f1d7"/><rect x="925.6" y="212.5" width="7.3" height="6.7" fill="#e9e1c7"/><rect x="932.9" y="212.5" width="7.3" height="6.7" fill="#faf2d8"/><rect x="940.2" y="212.5" width="7.3" height="6.7" fill="#ebe3c9"/><rect x="954.8" y="212.5" width="7.3" height="6.7" fill="#faf2d8"/><rect x="962.1" y="212.5" width="7.3" height="6.7" fill="#e9e1c7"/><rect x="969.4" y="212.5" width="7.3" height="6.7" fill="#faf2d8"/><rect x="976.7" y="212.5" width="7.3" height="6.7" fill="#faf2d8"/><rect x="991.3" y="212.5" width="7.3" height="6.7" fill="#e9e1c7"/><rect x="1005.9" y="212.5" width="7.3" height="6.7" fill="#e9e1c7"/><rect x="1013.2" y="212.5" width="7.3" height="6.7" fill="#f9f1d7"/><rect x="1020.5" y="212.5" width="7.3" height="6.7" fill="#ece4ca"/><rect x="906.5" y="219.2" width="109.2" height="7.6" fill="#d9f1cb"/><rect x="913.8" y="219.2" width="7.3" height="7.6" fill="#d3ebc5"/><rect x="921.1" y="219.2" width="7.3" height="7.6" fill="#e0f8d2"/><rect x="928.4" y="219.2" width="7.3" height="7.6" fill="#d2eac4"/><rect x="935.7" y="219.2" width="7.3" height="7.6" fill="#e1f9d3"/><rect x="950.3" y="219.2" width="7.3" height="7.6" fill="#e0f8d2"/><rect x="957.6" y="219.2" width="7.3" height="7.6" fill="#d4ecc6"/><rect x="964.9" y="219.2" width="7.3" height="7.6" fill="#d2eac4"/><rect x="972.2" y="219.2" width="7.3" height="7.6" fill="#e1f9d3"/><rect x="979.5" y="219.2" width="7.3" height="7.6" fill="#e1f9d3"/><rect x="986.8" y="219.2" width="7.3" height="7.6" fill="#d5edc7"/><rect x="1001.4" y="219.2" width="7.3" height="7.6" fill="#d2eac4"/><rect x="1008.7" y="219.2" width="7.0" height="7.6" fill="#e0f8d2"/><rect x="899.6" y="226.8" width="115.4" height="6.9" fill="#f0d6f0"/><rect x="899.6" y="226.8" width="7.3" height="6.9" fill="#e8cee8"/><rect x="906.9" y="226.8" width="7.3" height="6.9" fill="#f8def8"/><rect x="914.2" y="226.8" width="7.3" height="6.9" fill="#e7cde7"/><rect x="921.5" y="226.8" width="7.3" height="6.9" fill="#ecd2ec"/><rect x="928.8" y="226.8" width="7.3" height="6.9" fill="#f5dbf5"/><rect x="936.1" y="226.8" width="7.3" height="6.9" fill="#f7ddf7"/><rect x="958.0" y="226.8" width="7.3" height="6.9" fill="#f4daf4"/><rect x="965.3" y="226.8" width="7.3" height="6.9" fill="#f8def8"/><rect x="972.6" y="226.8" width="7.3" height="6.9" fill="#f4daf4"/><rect x="1001.8" y="226.8" width="7.3" height="6.9" fill="#ebd1eb"/><rect x="899.6" y="233.7" width="111.3" height="7.3" fill="#e7e2fa"/><rect x="899.6" y="233.7" width="7.3" height="7.3" fill="#dfdaf2"/><rect x="906.9" y="233.7" width="7.3" height="7.3" fill="#efeaff"/><rect x="921.5" y="233.7" width="7.3" height="7.3" fill="#ede8ff"/><rect x="928.8" y="233.7" width="7.3" height="7.3" fill="#ece7ff"/><rect x="943.4" y="233.7" width="7.3" height="7.3" fill="#ebe6fe"/><rect x="958.0" y="233.7" width="7.3" height="7.3" fill="#dfdaf2"/><rect x="965.3" y="233.7" width="7.3" height="7.3" fill="#e0dbf3"/><rect x="972.6" y="233.7" width="7.3" height="7.3" fill="#ede8ff"/><rect x="987.2" y="233.7" width="7.3" height="7.3" fill="#e2ddf5"/><rect x="1001.8" y="233.7" width="7.3" height="7.3" fill="#e1dcf4"/><rect x="1009.1" y="233.7" width="1.8" height="7.3" fill="#ece7ff"/><rect x="899.6" y="241.0" width="111.3" height="7.0" fill="#dfe5f8"/><rect x="906.9" y="241.0" width="7.3" height="7.0" fill="#d6dcef"/><rect x="914.2" y="241.0" width="7.3" height="7.0" fill="#d7ddf0"/><rect x="921.5" y="241.0" width="7.3" height="7.0" fill="#e6ecff"/><rect x="928.8" y="241.0" width="7.3" height="7.0" fill="#e7edff"/><rect x="958.0" y="241.0" width="7.3" height="7.0" fill="#e4eafd"/><rect x="965.3" y="241.0" width="7.3" height="7.0" fill="#e7edff"/><rect x="972.6" y="241.0" width="7.3" height="7.0" fill="#e3e9fc"/><rect x="979.9" y="241.0" width="7.3" height="7.0" fill="#d7ddf0"/><rect x="987.2" y="241.0" width="7.3" height="7.0" fill="#d7ddf0"/><rect x="1001.8" y="241.0" width="7.3" height="7.0" fill="#e4eafd"/><rect x="1009.1" y="241.0" width="1.8" height="7.0" fill="#d7ddf0"/><rect x="928.5" y="248.0" width="79.5" height="7.6" fill="#fae8b8"/><rect x="928.5" y="248.0" width="7.3" height="7.6" fill="#f1dfaf"/><rect x="943.1" y="248.0" width="7.3" height="7.6" fill="#fff0c0"/><rect x="950.4" y="248.0" width="7.3" height="7.6" fill="#feecbc"/><rect x="979.6" y="248.0" width="7.3" height="7.6" fill="#f0deae"/><rect x="986.9" y="248.0" width="7.3" height="7.6" fill="#feecbc"/><rect x="1001.5" y="248.0" width="6.5" height="7.6" fill="#f5e3b3"/><rect x="918.8" y="255.6" width="81.1" height="7.6" fill="#f4d1d1"/><rect x="918.8" y="255.6" width="7.3" height="7.6" fill="#edcaca"/><rect x="926.1" y="255.6" width="7.3" height="7.6" fill="#f9d6d6"/><rect x="933.4" y="255.6" width="7.3" height="7.6" fill="#ebc8c8"/><rect x="940.7" y="255.6" width="7.3" height="7.6" fill="#f0cdcd"/><rect x="955.3" y="255.6" width="7.3" height="7.6" fill="#eecbcb"/><rect x="984.5" y="255.6" width="7.3" height="7.6" fill="#f9d6d6"/><rect x="991.8" y="255.6" width="7.3" height="7.6" fill="#ecc9c9"/><rect x="999.1" y="255.6" width="0.8" height="7.6" fill="#efcccc"/><rect x="912.7" y="263.2" width="66.6" height="7.2" fill="#dde9df"/><rect x="912.7" y="263.2" width="7.3" height="7.2" fill="#e1ede3"/><rect x="927.3" y="263.2" width="7.3" height="7.2" fill="#e4f0e6"/><rect x="941.9" y="263.2" width="7.3" height="7.2" fill="#d7e3d9"/><rect x="956.5" y="263.2" width="7.3" height="7.2" fill="#e4f0e6"/><rect x="912.7" y="270.4" width="66.6" height="7.2" fill="#d3ebe0"/><rect x="927.3" y="270.4" width="7.3" height="7.2" fill="#cde5da"/><rect x="934.6" y="270.4" width="7.3" height="7.2" fill="#cbe3d8"/><rect x="941.9" y="270.4" width="7.3" height="7.2" fill="#cee6db"/><rect x="949.2" y="270.4" width="7.3" height="7.2" fill="#cde5da"/><rect x="971.1" y="270.4" width="7.3" height="7.2" fill="#c9e1d6"/><rect x="978.4" y="270.4" width="0.9" height="7.2" fill="#d8f0e5"/><rect x="920.2" y="277.6" width="59.1" height="6.9" fill="#d6ddfb"/><rect x="920.2" y="277.6" width="7.3" height="6.9" fill="#dee5ff"/><rect x="927.5" y="277.6" width="7.3" height="6.9" fill="#d1d8f6"/><rect x="949.4" y="277.6" width="7.3" height="6.9" fill="#ccd3f1"/><rect x="956.7" y="277.6" width="7.3" height="6.9" fill="#d0d7f5"/><rect x="971.3" y="277.6" width="7.3" height="6.9" fill="#dde4ff"/><rect x="903.7" y="284.5" width="61.2" height="8.9" fill="#e8f5d2"/><rect x="903.7" y="284.5" width="7.3" height="8.9" fill="#f0fdda"/><rect x="918.3" y="284.5" width="7.3" height="8.9" fill="#e2efcc"/><rect x="925.6" y="284.5" width="7.3" height="8.9" fill="#eefbd8"/><rect x="932.9" y="284.5" width="7.3" height="8.9" fill="#dfecc9"/><rect x="940.2" y="284.5" width="7.3" height="8.9" fill="#ecf9d6"/><rect x="947.5" y="284.5" width="7.3" height="8.9" fill="#effcd9"/><rect x="899.6" y="293.4" width="56.3" height="13.1" fill="#f7e2d2"/><rect x="914.2" y="293.4" width="7.3" height="13.1" fill="#f0dbcb"/><rect x="921.5" y="293.4" width="7.3" height="13.1" fill="#fce7d7"/><rect x="936.1" y="293.4" width="7.3" height="13.1" fill="#eed9c9"/><rect x="943.4" y="293.4" width="7.3" height="13.1" fill="#f3dece"/><rect x="950.7" y="293.4" width="5.2" height="13.1" fill="#efdaca"/><rect x="906.5" y="306.5" width="49.4" height="7.5" fill="#f1d4ec"/><rect x="906.5" y="306.5" width="7.3" height="7.5" fill="#edd0e8"/><rect x="913.8" y="306.5" width="7.3" height="7.5" fill="#f5d8f0"/><rect x="921.1" y="306.5" width="7.3" height="7.5" fill="#eccfe7"/><rect x="928.4" y="306.5" width="7.3" height="7.5" fill="#eacde5"/><rect x="943.0" y="306.5" width="7.3" height="7.5" fill="#e8cbe3"/><rect x="950.3" y="306.5" width="5.6" height="7.5" fill="#eacde5"/><rect x="1100.0" y="234.0" width="47.0" height="7.5" fill="#e3e6fb"/><rect x="1100.0" y="234.0" width="7.3" height="7.5" fill="#d9dcf1"/><rect x="1107.3" y="234.0" width="7.3" height="7.5" fill="#ebeeff"/><rect x="1114.6" y="234.0" width="7.3" height="7.5" fill="#dde0f5"/><rect x="1121.9" y="234.0" width="7.3" height="7.5" fill="#eaedff"/><rect x="1129.2" y="234.0" width="7.3" height="7.5" fill="#dcdff4"/><rect x="1143.8" y="234.0" width="3.2" height="7.5" fill="#d9dcf1"/><rect x="1100.0" y="241.5" width="47.0" height="7.5" fill="#e7eafb"/><rect x="1100.0" y="241.5" width="7.3" height="7.5" fill="#dfe2f3"/><rect x="1107.3" y="241.5" width="7.3" height="7.5" fill="#e3e6f7"/><rect x="1121.9" y="241.5" width="7.3" height="7.5" fill="#e1e4f5"/><rect x="1133.0" y="241.0" width="36.0" height="7.0" fill="#eef7f0"/><rect x="1133.0" y="241.0" width="7.3" height="7.0" fill="#f3fcf5"/><rect x="1140.3" y="241.0" width="7.3" height="7.0" fill="#e7f0e9"/><rect x="1147.6" y="241.0" width="7.3" height="7.0" fill="#e7f0e9"/><rect x="1154.9" y="241.0" width="7.3" height="7.0" fill="#f3fcf5"/><rect x="1162.2" y="241.0" width="6.8" height="7.0" fill="#f2fbf4"/><rect x="1140.0" y="248.0" width="29.0" height="8.0" fill="#d9efdf"/><rect x="1140.0" y="248.0" width="7.3" height="8.0" fill="#def4e4"/><rect x="1147.3" y="248.0" width="7.3" height="8.0" fill="#def4e4"/><rect x="1161.9" y="248.0" width="7.1" height="8.0" fill="#d1e7d7"/><rect x="1152.0" y="255.0" width="80.0" height="10.0" fill="#f6d8d8"/><rect x="1152.0" y="255.0" width="7.3" height="10.0" fill="#f0d2d2"/><rect x="1159.3" y="255.0" width="7.3" height="10.0" fill="#efd1d1"/><rect x="1181.2" y="255.0" width="7.3" height="10.0" fill="#fbdddd"/><rect x="1188.5" y="255.0" width="7.3" height="10.0" fill="#f1d3d3"/><rect x="1195.8" y="255.0" width="7.3" height="10.0" fill="#fcdede"/><rect x="1203.1" y="255.0" width="7.3" height="10.0" fill="#eccece"/><rect x="1210.4" y="255.0" width="7.3" height="10.0" fill="#f2d4d4"/><rect x="1217.7" y="255.0" width="7.3" height="10.0" fill="#fcdede"/><rect x="1160.0" y="263.0" width="47.0" height="15.0" fill="#fcefcf"/><rect x="1160.0" y="263.0" width="7.3" height="15.0" fill="#f6e9c9"/><rect x="1167.3" y="263.0" width="7.3" height="15.0" fill="#fff6d6"/><rect x="1174.6" y="263.0" width="7.3" height="15.0" fill="#f2e5c5"/><rect x="1181.9" y="263.0" width="7.3" height="15.0" fill="#fff5d5"/><rect x="1196.5" y="263.0" width="7.3" height="15.0" fill="#f4e7c7"/><rect x="1183.0" y="292.3" width="37.0" height="7.7" fill="#dfe4fb"/><rect x="1183.0" y="292.3" width="7.3" height="7.7" fill="#e5eaff"/><rect x="1197.6" y="292.3" width="7.3" height="7.7" fill="#dadff6"/><rect x="1219.5" y="292.3" width="0.5" height="7.7" fill="#e6ebff"/><rect x="1183.0" y="300.0" width="59.0" height="6.8" fill="#ece3f8"/><rect x="1183.0" y="300.0" width="7.3" height="6.8" fill="#f3eaff"/><rect x="1190.3" y="300.0" width="7.3" height="6.8" fill="#f2e9fe"/><rect x="1212.2" y="300.0" width="7.3" height="6.8" fill="#e8dff4"/><rect x="1241.4" y="300.0" width="0.6" height="6.8" fill="#e8dff4"/><rect x="1190.0" y="306.8" width="52.0" height="7.0" fill="#f2dcf1"/><rect x="1190.0" y="306.8" width="7.3" height="7.0" fill="#f8e2f7"/><rect x="1197.3" y="306.8" width="7.3" height="7.0" fill="#f7e1f6"/><rect x="1211.9" y="306.8" width="7.3" height="7.0" fill="#e8d2e7"/><rect x="1219.2" y="306.8" width="7.3" height="7.0" fill="#e8d2e7"/><rect x="1233.8" y="306.8" width="7.3" height="7.0" fill="#f7e1f6"/><rect x="1242.0" y="304.0" width="8.0" height="9.8" fill="#f8e6d0"/><rect x="1242.0" y="304.0" width="7.3" height="9.8" fill="#f4e2cc"/><rect x="1193.0" y="313.8" width="34.5" height="7.2" fill="#e0f3d6"/><rect x="1193.0" y="313.8" width="7.3" height="7.2" fill="#e4f7da"/><rect x="1214.9" y="313.8" width="7.3" height="7.2" fill="#d8ebce"/><rect x="1190.0" y="322.0" width="52.0" height="13.8" fill="#f8f3e2"/><rect x="1190.0" y="322.0" width="7.3" height="13.8" fill="#f1ecdb"/><rect x="1204.6" y="322.0" width="7.3" height="13.8" fill="#fdf8e7"/><rect x="1211.9" y="322.0" width="7.3" height="13.8" fill="#f4efde"/><rect x="1226.5" y="322.0" width="7.3" height="13.8" fill="#f4efde"/><rect x="1233.8" y="322.0" width="7.3" height="13.8" fill="#fdf8e7"/><rect x="1241.1" y="322.0" width="0.9" height="13.8" fill="#eee9d8"/></svg><div class="t" style="left:1031px;top:206.5px;font-size:9.6px;color:#eadca6;">...</div><div class="t" style="left:1002.5px;top:229px;font-size:9.6px;color:#e7a6e3;">有...</div><div class="t" style="left:987px;top:256px;font-size:9.6px;color:#f0aaa4;">心</div><div class="t" style="left:972px;top:267.5px;font-size:9.6px;color:#8fd8a6;">...</div><div class="t" style="left:961px;top:289px;font-size:9.6px;color:#cde89a;">...</div><div class="t" style="left:947.7px;top:295.5px;font-size:9.6px;color:#f5b887;">艺...</div><div class="t" style="left:957px;top:306px;font-size:9.6px;color:#e9a3e2;">...</div><div class="t" style="left:1030px;top:219px;font-size:9.6px;color:#c4eaa6;">...</div><div class="t" style="left:1018px;top:239px;font-size:9.6px;color:#a8b8f7;">...</div><div class="t" style="left:896px;top:221px;font-size:9.6px;color:#b6e49a;">19</div><div class="t" style="left:896px;top:237px;font-size:9.6px;color:#a6b6f6;">1.</div><div class="t" style="left:899px;top:266.3px;font-size:9.6px;color:#8dd7a4;">14.</div><div class="t" style="left:958.5px;top:272.5px;font-size:9.6px;color:#93a4f7;">区</div><div class="t" style="left:1089px;top:235.5px;font-size:10px;color:#8c9ff8;">1.</div><div class="t" style="left:1132px;top:243.5px;font-size:10px;color:#86d6a0;">2.</div><div class="t" style="left:1144.5px;top:256px;font-size:9.6px;color:#f0a09b;">3.</div><div class="t" style="left:1232px;top:255.5px;font-size:9.6px;color:#ef9b95;">限公司</div><div class="t" style="left:1155.5px;top:266.5px;font-size:9.6px;color:#f5cf6a;">4.</div><div class="t" style="left:1173px;top:294.5px;font-size:9.6px;color:#a9b9f7;">5.</div><div class="t" style="left:1178px;top:304px;font-size:9.6px;color:#e9a0e5;">6.</div><div class="t" style="left:1254px;top:302.5px;font-size:9.6px;color:#e9a0e5;">心</div><div class="t" style="left:1181px;top:313.5px;font-size:9.6px;color:#c2ea9e;">7.</div><div class="t" style="left:1183.5px;top:324px;font-size:9.6px;color:#ecd9a0;">8.</div><div class="t" style="left:928.3px;top:440.3px;font-size:9.6px;color:#a6e8ea;">9.廊坊益田翰德学校</div><div class="t" style="left:1242px;top:326px;font-size:9.6px;color:#efe0b0;">运 开</div><div class="a" style="left:1240px;top:238px;width:200px;height:183px;overflow:hidden"><div class="a" style="left:3.7px;top:3.4px;width:11.4px;height:11.4px;border-radius:50%;background:#7d91f8"></div><div class="t" style="left:23.700000000000045px;top:3.9px;font-size:9.8px;color:#888;">1.</div><div class="a" style="left:3.7px;top:22.6px;width:11.4px;height:11.4px;border-radius:50%;background:#7dd49a"></div><div class="t" style="left:23.700000000000045px;top:23.1px;font-size:9.8px;color:#888;">2.</div><div class="a" style="left:3.7px;top:41.8px;width:11.4px;height:11.4px;border-radius:50%;background:#ee8f89"></div><div class="t" style="left:23.700000000000045px;top:42.3px;font-size:9.8px;color:#888;">3.</div><div class="a" style="left:3.7px;top:61.0px;width:11.4px;height:11.4px;border-radius:50%;background:#f6cc53"></div><div class="t" style="left:23.700000000000045px;top:61.5px;font-size:9.8px;color:#888;">4.集团直属</div><div class="a" style="left:3.7px;top:80.2px;width:11.4px;height:11.4px;border-radius:50%;background:#a3b6f8"></div><div class="t" style="left:23.700000000000045px;top:80.7px;font-size:9.8px;color:#888;">5.</div><div class="a" style="left:3.7px;top:99.4px;width:11.4px;height:11.4px;border-radius:50%;background:#e89be4"></div><div class="t" style="left:23.700000000000045px;top:99.9px;font-size:9.8px;color:#888;">6.</div><div class="a" style="left:3.7px;top:118.6px;width:11.4px;height:11.4px;border-radius:50%;background:#bde9a0"></div><div class="t" style="left:23.700000000000045px;top:119.1px;font-size:9.8px;color:#888;">7.</div><div class="a" style="left:3.7px;top:137.8px;width:11.4px;height:11.4px;border-radius:50%;background:#ebdc9f"></div><div class="t" style="left:23.700000000000045px;top:138.3px;font-size:9.8px;color:#888;">8</div><div class="a" style="left:3.7px;top:157.0px;width:11.4px;height:11.4px;border-radius:50%;background:#b3eff0"></div><div class="t" style="left:23.700000000000045px;top:157.5px;font-size:9.8px;color:#888;">9.</div><div class="a" style="left:3.7px;top:176.2px;width:11.4px;height:11.4px;border-radius:50%;background:#e796d8"></div><div class="t" style="left:23.700000000000045px;top:176.7px;font-size:9.8px;color:#888;">10</div><div class="t" style="left:144.79999999999995px;top:42.3px;font-size:9.8px;color:#888;">1</div><div class="t" style="left:81px;top:61.5px;font-size:9.8px;color:#888;">291</div><div class="t" style="left:76px;top:80.7px;font-size:9.8px;color:#888;">263</div><div class="t" style="left:113px;top:99.9px;font-size:9.8px;color:#888;">53</div><div class="t" style="left:76px;top:119.1px;font-size:9.8px;color:#888;">227</div><div class="t" style="left:163.5999999999999px;top:138.3px;font-size:9.8px;color:#888;">837</div><div class="t" style="left:115.79999999999995px;top:157.5px;font-size:9.8px;color:#888;">19448</div><div class="t" style="left:160.4000000000001px;top:176.7px;font-size:9.8px;color:#888;">168</div></div><svg class="a" style="left:0;top:0;filter:blur(1.0px)" width="1482" height="874" viewBox="0 0 1482 874"><rect x="1275.0" y="241.0" width="62.0" height="8.0" fill="#e6e6e6"/><rect x="1282.3" y="241.0" width="7.3" height="8.0" fill="#e0e0e0"/><rect x="1296.9" y="241.0" width="7.3" height="8.0" fill="#dddddd"/><rect x="1304.2" y="241.0" width="7.3" height="8.0" fill="#dedede"/><rect x="1311.5" y="241.0" width="7.3" height="8.0" fill="#ededed"/><rect x="1318.8" y="241.0" width="7.3" height="8.0" fill="#dfdfdf"/><rect x="1333.4" y="241.0" width="3.6" height="8.0" fill="#eeeeee"/><rect x="1278.0" y="249.0" width="57.0" height="6.0" fill="#f3f3f3"/><rect x="1278.0" y="249.0" width="7.3" height="6.0" fill="#eaeaea"/><rect x="1285.3" y="249.0" width="7.3" height="6.0" fill="#f9f9f9"/><rect x="1292.6" y="249.0" width="7.3" height="6.0" fill="#efefef"/><rect x="1299.9" y="249.0" width="7.3" height="6.0" fill="#eaeaea"/><rect x="1307.2" y="249.0" width="7.3" height="6.0" fill="#ebebeb"/><rect x="1329.1" y="249.0" width="5.9" height="6.0" fill="#ebebeb"/><rect x="1275.0" y="261.0" width="47.0" height="8.0" fill="#dedede"/><rect x="1282.3" y="261.0" width="7.3" height="8.0" fill="#d6d6d6"/><rect x="1289.6" y="261.0" width="7.3" height="8.0" fill="#e5e5e5"/><rect x="1304.2" y="261.0" width="7.3" height="8.0" fill="#d5d5d5"/><rect x="1311.5" y="261.0" width="7.3" height="8.0" fill="#e6e6e6"/><rect x="1318.8" y="261.0" width="3.2" height="8.0" fill="#d7d7d7"/><rect x="1310.0" y="259.0" width="16.0" height="10.0" fill="#f5f5f5"/><rect x="1317.3" y="259.0" width="7.3" height="10.0" fill="#fdfdfd"/><rect x="1324.6" y="259.0" width="1.4" height="10.0" fill="#ececec"/><rect x="1272.0" y="279.0" width="103.0" height="11.0" fill="#e8e8e8"/><rect x="1272.0" y="279.0" width="7.3" height="11.0" fill="#f0f0f0"/><rect x="1279.3" y="279.0" width="7.3" height="11.0" fill="#f0f0f0"/><rect x="1293.9" y="279.0" width="7.3" height="11.0" fill="#dfdfdf"/><rect x="1308.5" y="279.0" width="7.3" height="11.0" fill="#dfdfdf"/><rect x="1315.8" y="279.0" width="7.3" height="11.0" fill="#efefef"/><rect x="1323.1" y="279.0" width="7.3" height="11.0" fill="#e2e2e2"/><rect x="1345.0" y="279.0" width="7.3" height="11.0" fill="#e2e2e2"/><rect x="1352.3" y="279.0" width="7.3" height="11.0" fill="#efefef"/><rect x="1359.6" y="279.0" width="7.3" height="11.0" fill="#e1e1e1"/><rect x="1366.9" y="279.0" width="7.3" height="11.0" fill="#f0f0f0"/><rect x="1272.0" y="290.0" width="98.0" height="3.0" fill="#f6f6f6"/><rect x="1272.0" y="290.0" width="7.3" height="3.0" fill="#fdfdfd"/><rect x="1279.3" y="290.0" width="7.3" height="3.0" fill="#f1f1f1"/><rect x="1286.6" y="290.0" width="7.3" height="3.0" fill="#efefef"/><rect x="1293.9" y="290.0" width="7.3" height="3.0" fill="#fefefe"/><rect x="1301.2" y="290.0" width="7.3" height="3.0" fill="#fefefe"/><rect x="1308.5" y="290.0" width="7.3" height="3.0" fill="#f2f2f2"/><rect x="1323.1" y="290.0" width="7.3" height="3.0" fill="#efefef"/><rect x="1330.4" y="290.0" width="7.3" height="3.0" fill="#fdfdfd"/><rect x="1337.7" y="290.0" width="7.3" height="3.0" fill="#eeeeee"/><rect x="1345.0" y="290.0" width="7.3" height="3.0" fill="#fefefe"/><rect x="1352.3" y="290.0" width="7.3" height="3.0" fill="#ededed"/><rect x="1359.6" y="290.0" width="7.3" height="3.0" fill="#f2f2f2"/><rect x="1366.9" y="290.0" width="3.1" height="3.0" fill="#fbfbfb"/><rect x="1317.0" y="299.0" width="5.0" height="10.0" fill="#f3f3f3"/><rect x="1317.0" y="299.0" width="5.0" height="10.0" fill="#fafafa"/><rect x="1272.0" y="316.0" width="43.0" height="12.0" fill="#e2e2e2"/><rect x="1286.6" y="316.0" width="7.3" height="12.0" fill="#e6e6e6"/><rect x="1293.9" y="316.0" width="7.3" height="12.0" fill="#eaeaea"/><rect x="1301.2" y="316.0" width="7.3" height="12.0" fill="#e6e6e6"/><rect x="1278.0" y="328.0" width="52.0" height="5.0" fill="#f3f3f3"/><rect x="1292.6" y="328.0" width="7.3" height="5.0" fill="#eeeeee"/><rect x="1307.2" y="328.0" width="7.3" height="5.0" fill="#ebebeb"/><rect x="1314.5" y="328.0" width="7.3" height="5.0" fill="#fbfbfb"/><rect x="1329.1" y="328.0" width="0.9" height="5.0" fill="#f9f9f9"/><rect x="1272.0" y="334.0" width="86.0" height="11.0" fill="#e7e7e7"/><rect x="1272.0" y="334.0" width="7.3" height="11.0" fill="#ececec"/><rect x="1286.6" y="334.0" width="7.3" height="11.0" fill="#ebebeb"/><rect x="1301.2" y="334.0" width="7.3" height="11.0" fill="#dfdfdf"/><rect x="1308.5" y="334.0" width="7.3" height="11.0" fill="#e0e0e0"/><rect x="1315.8" y="334.0" width="7.3" height="11.0" fill="#ededed"/><rect x="1330.4" y="334.0" width="7.3" height="11.0" fill="#e2e2e2"/><rect x="1345.0" y="334.0" width="7.3" height="11.0" fill="#e1e1e1"/><rect x="1352.3" y="334.0" width="5.7" height="11.0" fill="#ececec"/><rect x="1320.0" y="345.0" width="40.0" height="5.0" fill="#f5f5f5"/><rect x="1327.3" y="345.0" width="7.3" height="5.0" fill="#ececec"/><rect x="1334.6" y="345.0" width="7.3" height="5.0" fill="#ededed"/><rect x="1341.9" y="345.0" width="7.3" height="5.0" fill="#fcfcfc"/><rect x="1349.2" y="345.0" width="7.3" height="5.0" fill="#fdfdfd"/><rect x="1273.0" y="355.0" width="32.0" height="12.0" fill="#ebebeb"/><rect x="1287.6" y="355.0" width="7.3" height="12.0" fill="#f0f0f0"/><rect x="1294.9" y="355.0" width="7.3" height="12.0" fill="#f3f3f3"/><rect x="1302.2" y="355.0" width="2.8" height="12.0" fill="#efefef"/><rect x="1272.0" y="369.0" width="123.0" height="19.0" fill="#eaeaea"/><rect x="1272.0" y="369.0" width="7.3" height="19.0" fill="#e2e2e2"/><rect x="1279.3" y="369.0" width="7.3" height="19.0" fill="#e2e2e2"/><rect x="1293.9" y="369.0" width="7.3" height="19.0" fill="#efefef"/><rect x="1301.2" y="369.0" width="7.3" height="19.0" fill="#e2e2e2"/><rect x="1308.5" y="369.0" width="7.3" height="19.0" fill="#e1e1e1"/><rect x="1323.1" y="369.0" width="7.3" height="19.0" fill="#f2f2f2"/><rect x="1330.4" y="369.0" width="7.3" height="19.0" fill="#eeeeee"/><rect x="1359.6" y="369.0" width="7.3" height="19.0" fill="#e0e0e0"/><rect x="1366.9" y="369.0" width="7.3" height="19.0" fill="#eeeeee"/><rect x="1381.5" y="369.0" width="7.3" height="19.0" fill="#e5e5e5"/><rect x="1388.8" y="369.0" width="6.2" height="19.0" fill="#e3e3e3"/><rect x="1273.0" y="393.0" width="79.0" height="12.0" fill="#e3e3e3"/><rect x="1273.0" y="393.0" width="7.3" height="12.0" fill="#e8e8e8"/><rect x="1280.3" y="393.0" width="7.3" height="12.0" fill="#dadada"/><rect x="1287.6" y="393.0" width="7.3" height="12.0" fill="#dfdfdf"/><rect x="1302.2" y="393.0" width="7.3" height="12.0" fill="#dddddd"/><rect x="1331.4" y="393.0" width="7.3" height="12.0" fill="#e8e8e8"/><rect x="1338.7" y="393.0" width="7.3" height="12.0" fill="#dbdbdb"/><rect x="1346.0" y="393.0" width="6.0" height="12.0" fill="#dedede"/><rect x="1275.0" y="405.0" width="45.0" height="5.0" fill="#f4f4f4"/><rect x="1275.0" y="405.0" width="7.3" height="5.0" fill="#f8f8f8"/><rect x="1289.6" y="405.0" width="7.3" height="5.0" fill="#fbfbfb"/><rect x="1304.2" y="405.0" width="7.3" height="5.0" fill="#eeeeee"/><rect x="1318.8" y="405.0" width="1.2" height="5.0" fill="#fbfbfb"/><rect x="1273.0" y="411.0" width="117.0" height="11.0" fill="#ececec"/><rect x="1309.5" y="411.0" width="7.3" height="11.0" fill="#e6e6e6"/><rect x="1316.8" y="411.0" width="7.3" height="11.0" fill="#e4e4e4"/><rect x="1324.1" y="411.0" width="7.3" height="11.0" fill="#e7e7e7"/><rect x="1331.4" y="411.0" width="7.3" height="11.0" fill="#e6e6e6"/><rect x="1353.3" y="411.0" width="7.3" height="11.0" fill="#e2e2e2"/><rect x="1360.6" y="411.0" width="7.3" height="11.0" fill="#f1f1f1"/><rect x="1367.9" y="411.0" width="7.3" height="11.0" fill="#f4f4f4"/><rect x="1375.2" y="411.0" width="7.3" height="11.0" fill="#e7e7e7"/></svg><svg class="a" style="left:1320px;top:428px" width="46" height="11" viewBox="1320 428 46 11"><path d="M1321.6,437.7 L1326,429 L1330.4,437.7 Z" fill="#bdbdbd"/><path d="M1355,429 L1363.9,429 L1359.45,437.7 Z" fill="#5c74f0"/></svg><div class="t" style="left:1334.5px;top:428px;font-size:10px;color:#555;">1/3</div><svg class="a" style="left:0;top:0" width="1482" height="874" viewBox="0 0 1482 874"><polyline points="429.5,590.0 441.7,590.0 441.7,624.0" fill="none" stroke="#d5ee7c" stroke-width="1"/><polyline points="424.5,600.5 437.4,600.5 438.1,624.0" fill="none" stroke="#e89be4" stroke-width="1"/><polyline points="418.0,609.3 430.2,609.3 432.4,624.0" fill="none" stroke="#a3b6f8" stroke-width="1"/><polyline points="398.8,620.5 423.1,625.1" fill="none" stroke="#f6cc53" stroke-width="1"/><polyline points="378.0,629.1 414.5,627.2" fill="none" stroke="#ee8f89" stroke-width="1"/><polyline points="362.3,638.7 374.5,638.7 410.2,629.1" fill="none" stroke="#7dd49a" stroke-width="1"/><polyline points="355.1,648.7 366.6,648.7 401.6,632.2" fill="none" stroke="#7d91f8" stroke-width="1"/><polyline points="343.0,676.6 361.6,677.3" fill="none" stroke="#d5ee7c" stroke-width="1"/><polyline points="446.0,624.0 477.5,611.2 488.0,611.2" fill="none" stroke="#7d91f8" stroke-width="1"/><polyline points="449.0,624.0 478.0,621.8 505.0,621.8" fill="none" stroke="#7dd49a" stroke-width="1"/><polyline points="529.0,713.0 537.8,717.9 549.2,717.9" fill="none" stroke="#ee8f89" stroke-width="1"/><polyline points="425.7,796.3 424.8,812.8 412.1,812.8" fill="none" stroke="#f6cc53" stroke-width="1"/><polyline points="342.5,743.0 355.2,743.0 361.5,737.8" fill="none" stroke="#f6b27b" stroke-width="1"/><polyline points="344.7,752.5 355.2,752.5 363.6,741.0" fill="none" stroke="#e89be4" stroke-width="1"/><polyline points="348.9,763.0 361.5,763.0 365.7,744.0" fill="none" stroke="#b3eff0" stroke-width="1"/><polyline points="355.2,771.5 367.9,771.5 367.9,750.4" fill="none" stroke="#ebdc9f" stroke-width="1"/><polyline points="361.5,782.0 374.2,782.0 374.2,756.7" fill="none" stroke="#bde9a0" stroke-width="1"/><polyline points="370.0,790.5 382.6,790.5 382.6,763.0" fill="none" stroke="#e89be4" stroke-width="1"/><polyline points="378.4,801.0 396.1,801.0 391.0,780.0" fill="none" stroke="#a3b6f8" stroke-width="1"/><path d="M443.00,711.00L443.00,624.00A87,87 0 0 1 448.77,624.19Z" fill="#7d91f8"/><path d="M443.00,711.00L448.77,624.19A87,87 0 0 1 453.45,624.63Z" fill="#7dd49a"/><path d="M443.00,711.00L453.45,624.63A87,87 0 0 1 447.70,797.87Z" fill="#ee8f89"/><path d="M443.00,711.00L447.70,797.87A87,87 0 0 1 404.73,789.13Z" fill="#f6cc53"/><path d="M443.00,711.00L404.73,789.13A87,87 0 0 1 379.06,770.00Z" fill="#a3b6f8"/><path d="M443.00,711.00L379.06,770.00A87,87 0 0 1 376.16,766.69Z" fill="#e89be4"/><path d="M443.00,711.00L376.16,766.69A87,87 0 0 1 369.30,757.23Z" fill="#bde9a0"/><path d="M443.00,711.00L369.30,757.23A87,87 0 0 1 364.34,748.18Z" fill="#ebdc9f"/><path d="M443.00,711.00L364.34,748.18A87,87 0 0 1 362.45,743.87Z" fill="#b3eff0"/><path d="M443.00,711.00L362.45,743.87A87,87 0 0 1 360.21,737.74Z" fill="#f6b27b"/><path d="M443.00,711.00L360.21,737.74A87,87 0 0 1 402.42,634.04Z" fill="#d5ee7c"/><path d="M443.00,711.00L402.42,634.04A87,87 0 0 1 410.27,630.39Z" fill="#7d91f8"/><path d="M443.00,711.00L410.27,630.39A87,87 0 0 1 412.53,629.51Z" fill="#7dd49a"/><path d="M443.00,711.00L412.53,629.51A87,87 0 0 1 419.60,627.20Z" fill="#ee8f89"/><path d="M443.00,711.00L419.60,627.20A87,87 0 0 1 429.09,625.12Z" fill="#f6cc53"/><path d="M443.00,711.00L429.09,625.12A87,87 0 0 1 434.36,624.43Z" fill="#a3b6f8"/><path d="M443.00,711.00L434.36,624.43A87,87 0 0 1 439.81,624.06Z" fill="#e89be4"/><path d="M443.00,711.00L439.81,624.06A87,87 0 0 1 443.00,624.00Z" fill="#bde9a0"/></svg><svg class="a" style="left:0;top:0;filter:blur(1.2px)" width="1482" height="874" viewBox="0 0 1482 874"><rect x="290.8" y="585.0" width="125.9" height="7.2" fill="#e4f5d7"/><rect x="298.1" y="585.0" width="7.3" height="7.2" fill="#deefd1"/><rect x="312.7" y="585.0" width="7.3" height="7.2" fill="#dbecce"/><rect x="320.0" y="585.0" width="7.3" height="7.2" fill="#dcedcf"/><rect x="327.3" y="585.0" width="7.3" height="7.2" fill="#ebfcde"/><rect x="334.6" y="585.0" width="7.3" height="7.2" fill="#ddeed0"/><rect x="349.2" y="585.0" width="7.3" height="7.2" fill="#ecfddf"/><rect x="356.5" y="585.0" width="7.3" height="7.2" fill="#dbecce"/><rect x="363.8" y="585.0" width="7.3" height="7.2" fill="#eafbdd"/><rect x="371.1" y="585.0" width="7.3" height="7.2" fill="#e0f1d3"/><rect x="378.4" y="585.0" width="7.3" height="7.2" fill="#dbecce"/><rect x="385.7" y="585.0" width="7.3" height="7.2" fill="#dcedcf"/><rect x="407.6" y="585.0" width="7.3" height="7.2" fill="#dcedcf"/><rect x="291.5" y="592.2" width="125.2" height="7.8" fill="#f1e4f3"/><rect x="291.5" y="592.2" width="7.3" height="7.8" fill="#e9dceb"/><rect x="298.8" y="592.2" width="7.3" height="7.8" fill="#f8ebfa"/><rect x="313.4" y="592.2" width="7.3" height="7.8" fill="#e8dbea"/><rect x="320.7" y="592.2" width="7.3" height="7.8" fill="#f9ecfb"/><rect x="328.0" y="592.2" width="7.3" height="7.8" fill="#eaddec"/><rect x="342.6" y="592.2" width="7.3" height="7.8" fill="#f9ecfb"/><rect x="349.9" y="592.2" width="7.3" height="7.8" fill="#e8dbea"/><rect x="357.2" y="592.2" width="7.3" height="7.8" fill="#f9ecfb"/><rect x="364.5" y="592.2" width="7.3" height="7.8" fill="#f9ecfb"/><rect x="379.1" y="592.2" width="7.3" height="7.8" fill="#e8dbea"/><rect x="393.7" y="592.2" width="7.3" height="7.8" fill="#e8dbea"/><rect x="401.0" y="592.2" width="7.3" height="7.8" fill="#f8ebfa"/><rect x="408.3" y="592.2" width="7.3" height="7.8" fill="#ebdeed"/><rect x="278.6" y="600.0" width="135.9" height="6.5" fill="#efe2f7"/><rect x="285.9" y="600.0" width="7.3" height="6.5" fill="#e9dcf1"/><rect x="293.2" y="600.0" width="7.3" height="6.5" fill="#f6e9fe"/><rect x="300.5" y="600.0" width="7.3" height="6.5" fill="#e8dbf0"/><rect x="307.8" y="600.0" width="7.3" height="6.5" fill="#f7eaff"/><rect x="322.4" y="600.0" width="7.3" height="6.5" fill="#f6e9fe"/><rect x="329.7" y="600.0" width="7.3" height="6.5" fill="#eaddf2"/><rect x="337.0" y="600.0" width="7.3" height="6.5" fill="#e8dbf0"/><rect x="344.3" y="600.0" width="7.3" height="6.5" fill="#f7eaff"/><rect x="351.6" y="600.0" width="7.3" height="6.5" fill="#f7eaff"/><rect x="358.9" y="600.0" width="7.3" height="6.5" fill="#ebdef3"/><rect x="373.5" y="600.0" width="7.3" height="6.5" fill="#e8dbf0"/><rect x="380.8" y="600.0" width="7.3" height="6.5" fill="#f6e9fe"/><rect x="388.1" y="600.0" width="7.3" height="6.5" fill="#e7daef"/><rect x="395.4" y="600.0" width="7.3" height="6.5" fill="#f7eaff"/><rect x="402.7" y="600.0" width="7.3" height="6.5" fill="#e6d9ee"/><rect x="410.0" y="600.0" width="4.5" height="6.5" fill="#ebdef3"/><rect x="277.2" y="606.5" width="124.4" height="7.1" fill="#e1e7fb"/><rect x="277.2" y="606.5" width="7.3" height="7.1" fill="#e6ecff"/><rect x="284.5" y="606.5" width="7.3" height="7.1" fill="#e8eeff"/><rect x="306.4" y="606.5" width="7.3" height="7.1" fill="#e5ebff"/><rect x="313.7" y="606.5" width="7.3" height="7.1" fill="#e9efff"/><rect x="321.0" y="606.5" width="7.3" height="7.1" fill="#e5ebff"/><rect x="350.2" y="606.5" width="7.3" height="7.1" fill="#dce2f6"/><rect x="364.8" y="606.5" width="7.3" height="7.1" fill="#d9dff3"/><rect x="372.1" y="606.5" width="7.3" height="7.1" fill="#e9efff"/><rect x="386.7" y="606.5" width="7.3" height="7.1" fill="#e7edff"/><rect x="394.0" y="606.5" width="7.3" height="7.1" fill="#e6ecff"/><rect x="307.2" y="613.6" width="94.4" height="7.9" fill="#fcefd2"/><rect x="314.5" y="613.6" width="7.3" height="7.9" fill="#fff3d6"/><rect x="329.1" y="613.6" width="7.3" height="7.9" fill="#f4e7ca"/><rect x="336.4" y="613.6" width="7.3" height="7.9" fill="#f5e8cb"/><rect x="343.7" y="613.6" width="7.3" height="7.9" fill="#fff5d8"/><rect x="358.3" y="613.6" width="7.3" height="7.9" fill="#f7eacd"/><rect x="372.9" y="613.6" width="7.3" height="7.9" fill="#f6e9cc"/><rect x="380.2" y="613.6" width="7.3" height="7.9" fill="#fff4d7"/><rect x="394.8" y="613.6" width="6.8" height="7.9" fill="#f3e6c9"/><rect x="314.4" y="621.5" width="60.1" height="7.1" fill="#f9e2da"/><rect x="314.4" y="621.5" width="7.3" height="7.1" fill="#f1dad2"/><rect x="321.7" y="621.5" width="7.3" height="7.1" fill="#ffe9e1"/><rect x="329.0" y="621.5" width="7.3" height="7.1" fill="#ffeae2"/><rect x="358.2" y="621.5" width="7.3" height="7.1" fill="#fee7df"/><rect x="365.5" y="621.5" width="7.3" height="7.1" fill="#ffeae2"/><rect x="372.8" y="621.5" width="1.7" height="7.1" fill="#fde6de"/><rect x="320.0" y="628.6" width="38.7" height="7.2" fill="#efe8e5"/><rect x="320.0" y="628.6" width="7.3" height="7.2" fill="#e7e0dd"/><rect x="327.3" y="628.6" width="7.3" height="7.2" fill="#e7e0dd"/><rect x="341.9" y="628.6" width="7.3" height="7.2" fill="#f4edea"/><rect x="349.2" y="628.6" width="7.3" height="7.2" fill="#e7e0dd"/><rect x="356.5" y="628.6" width="2.2" height="7.2" fill="#e6dfdc"/><rect x="320.0" y="635.8" width="38.7" height="7.2" fill="#dff2e3"/><rect x="327.3" y="635.8" width="7.3" height="7.2" fill="#e7faeb"/><rect x="334.6" y="635.8" width="7.3" height="7.2" fill="#e3f6e7"/><rect x="320.8" y="643.0" width="29.3" height="7.8" fill="#dee4fb"/><rect x="320.8" y="643.0" width="7.3" height="7.8" fill="#d4daf1"/><rect x="328.1" y="643.0" width="7.3" height="7.8" fill="#e2e8ff"/><rect x="342.7" y="643.0" width="7.3" height="7.8" fill="#d9dff6"/><rect x="293.6" y="672.0" width="42.9" height="8.0" fill="#edf6d8"/><rect x="293.6" y="672.0" width="7.3" height="8.0" fill="#e6efd1"/><rect x="300.9" y="672.0" width="7.3" height="8.0" fill="#f2fbdd"/><rect x="308.2" y="672.0" width="7.3" height="8.0" fill="#e4edcf"/><rect x="315.5" y="672.0" width="7.3" height="8.0" fill="#e9f2d4"/><rect x="330.1" y="672.0" width="6.4" height="8.0" fill="#e7f0d2"/><rect x="495.0" y="606.0" width="55.0" height="8.0" fill="#d8defb"/><rect x="516.9" y="606.0" width="7.3" height="8.0" fill="#dde3ff"/><rect x="524.2" y="606.0" width="7.3" height="8.0" fill="#d0d6f3"/><rect x="531.5" y="606.0" width="7.3" height="8.0" fill="#d3d9f6"/><rect x="538.8" y="606.0" width="7.3" height="8.0" fill="#dce2ff"/><rect x="500.0" y="614.0" width="50.0" height="3.5" fill="#eef1fb"/><rect x="500.0" y="614.0" width="7.3" height="3.5" fill="#f5f8ff"/><rect x="514.6" y="614.0" width="7.3" height="3.5" fill="#e8ebf5"/><rect x="529.2" y="614.0" width="7.3" height="3.5" fill="#f5f8ff"/><rect x="504.0" y="617.5" width="50.5" height="11.0" fill="#e2f3e7"/><rect x="525.9" y="617.5" width="7.3" height="11.0" fill="#dcede1"/><rect x="533.2" y="617.5" width="7.3" height="11.0" fill="#daebdf"/><rect x="540.5" y="617.5" width="7.3" height="11.0" fill="#ddeee2"/><rect x="547.8" y="617.5" width="6.7" height="11.0" fill="#dcede1"/><rect x="563.0" y="709.0" width="49.0" height="7.5" fill="#fbeeee"/><rect x="577.6" y="709.0" width="7.3" height="7.5" fill="#f1e4e4"/><rect x="584.9" y="709.0" width="7.3" height="7.5" fill="#fff3f3"/><rect x="592.2" y="709.0" width="7.3" height="7.5" fill="#fff6f6"/><rect x="599.5" y="709.0" width="7.3" height="7.5" fill="#f6e9e9"/><rect x="563.0" y="716.5" width="57.0" height="7.5" fill="#f6dcdc"/><rect x="570.3" y="716.5" width="7.3" height="7.5" fill="#ecd2d2"/><rect x="577.6" y="716.5" width="7.3" height="7.5" fill="#f0d6d6"/><rect x="592.2" y="716.5" width="7.3" height="7.5" fill="#fde3e3"/><rect x="606.8" y="716.5" width="7.3" height="7.5" fill="#fee4e4"/><rect x="290.0" y="737.5" width="46.0" height="7.0" fill="#fbe6d4"/><rect x="290.0" y="737.5" width="7.3" height="7.0" fill="#f5e0ce"/><rect x="297.3" y="737.5" width="7.3" height="7.0" fill="#ffecda"/><rect x="304.6" y="737.5" width="7.3" height="7.0" fill="#f2ddcb"/><rect x="311.9" y="737.5" width="7.3" height="7.0" fill="#ffead8"/><rect x="319.2" y="737.5" width="7.3" height="7.0" fill="#ffeddb"/><rect x="292.0" y="744.5" width="44.0" height="7.0" fill="#f7dfe9"/><rect x="306.6" y="744.5" width="7.3" height="7.0" fill="#f0d8e2"/><rect x="313.9" y="744.5" width="7.3" height="7.0" fill="#fce4ee"/><rect x="328.5" y="744.5" width="7.3" height="7.0" fill="#eed6e0"/><rect x="292.0" y="751.5" width="50.0" height="6.5" fill="#f1e4f3"/><rect x="292.0" y="751.5" width="7.3" height="6.5" fill="#ede0ef"/><rect x="299.3" y="751.5" width="7.3" height="6.5" fill="#e9dceb"/><rect x="306.6" y="751.5" width="7.3" height="6.5" fill="#ede0ef"/><rect x="313.9" y="751.5" width="7.3" height="6.5" fill="#f5e8f7"/><rect x="321.2" y="751.5" width="7.3" height="6.5" fill="#ecdfee"/><rect x="328.5" y="751.5" width="7.3" height="6.5" fill="#eaddec"/><rect x="295.0" y="758.0" width="50.0" height="7.0" fill="#dcf6f7"/><rect x="295.0" y="758.0" width="7.3" height="7.0" fill="#d3edee"/><rect x="302.3" y="758.0" width="7.3" height="7.0" fill="#d5eff0"/><rect x="309.6" y="758.0" width="7.3" height="7.0" fill="#d2eced"/><rect x="316.9" y="758.0" width="7.3" height="7.0" fill="#e4feff"/><rect x="324.2" y="758.0" width="7.3" height="7.0" fill="#d6f0f1"/><rect x="331.5" y="758.0" width="7.3" height="7.0" fill="#e3fdfe"/><rect x="338.8" y="758.0" width="6.2" height="7.0" fill="#d5eff0"/><rect x="300.0" y="765.0" width="50.0" height="10.0" fill="#f8f2dd"/><rect x="307.3" y="765.0" width="7.3" height="10.0" fill="#eee8d3"/><rect x="314.6" y="765.0" width="7.3" height="10.0" fill="#f0ead5"/><rect x="321.9" y="765.0" width="7.3" height="10.0" fill="#f4eed9"/><rect x="336.5" y="765.0" width="7.3" height="10.0" fill="#f2ecd7"/><rect x="313.0" y="775.0" width="45.0" height="9.0" fill="#e9f6de"/><rect x="327.6" y="775.0" width="7.3" height="9.0" fill="#eefbe3"/><rect x="334.9" y="775.0" width="7.3" height="9.0" fill="#e2efd7"/><rect x="342.2" y="775.0" width="7.3" height="9.0" fill="#e2efd7"/><rect x="349.5" y="775.0" width="7.3" height="9.0" fill="#eefbe3"/><rect x="356.8" y="775.0" width="1.2" height="9.0" fill="#edfae2"/><rect x="320.0" y="784.0" width="45.0" height="7.0" fill="#eee8e6"/><rect x="320.0" y="784.0" width="7.3" height="7.0" fill="#f3edeb"/><rect x="327.3" y="784.0" width="7.3" height="7.0" fill="#f3edeb"/><rect x="341.9" y="784.0" width="7.3" height="7.0" fill="#e6e0de"/><rect x="349.2" y="784.0" width="7.3" height="7.0" fill="#e8e2e0"/><rect x="356.5" y="784.0" width="7.3" height="7.0" fill="#e7e1df"/><rect x="320.0" y="791.0" width="48.0" height="7.0" fill="#f3e0f3"/><rect x="327.3" y="791.0" width="7.3" height="7.0" fill="#f8e5f8"/><rect x="334.6" y="791.0" width="7.3" height="7.0" fill="#eedbee"/><rect x="341.9" y="791.0" width="7.3" height="7.0" fill="#f9e6f9"/><rect x="349.2" y="791.0" width="7.3" height="7.0" fill="#e9d6e9"/><rect x="356.5" y="791.0" width="7.3" height="7.0" fill="#efdcef"/><rect x="363.8" y="791.0" width="4.2" height="7.0" fill="#f9e6f9"/><rect x="322.0" y="798.0" width="58.0" height="8.0" fill="#e2e7fb"/><rect x="329.3" y="798.0" width="7.3" height="8.0" fill="#dce1f5"/><rect x="336.6" y="798.0" width="7.3" height="8.0" fill="#e9eeff"/><rect x="343.9" y="798.0" width="7.3" height="8.0" fill="#d8ddf1"/><rect x="351.2" y="798.0" width="7.3" height="8.0" fill="#e8edff"/><rect x="365.8" y="798.0" width="7.3" height="8.0" fill="#dadff3"/><rect x="345.0" y="806.0" width="63.0" height="13.0" fill="#faf0da"/><rect x="345.0" y="806.0" width="7.3" height="13.0" fill="#fff6e0"/><rect x="359.6" y="806.0" width="7.3" height="13.0" fill="#f5ebd5"/><rect x="381.5" y="806.0" width="7.3" height="13.0" fill="#fff7e1"/><rect x="388.8" y="806.0" width="7.3" height="13.0" fill="#fff7e1"/><rect x="396.1" y="806.0" width="7.3" height="13.0" fill="#fff6e0"/></svg><div class="t" style="left:269px;top:585.5px;font-size:9.6px;color:#b9e39b;">19.农</div><div class="t" style="left:267px;top:605px;font-size:9.6px;color:#9fb0f6;">17</div><div class="t" style="left:316px;top:621px;font-size:9.6px;color:#ef9a92;">1</div><div class="t" style="left:316px;top:635.5px;font-size:9.6px;color:#85d39e;">1</div><div class="t" style="left:309px;top:645px;font-size:9.6px;color:#9badf6;">13.</div><div class="t" style="left:275px;top:671.5px;font-size:9.6px;color:#cfe68c;">12.F</div><div class="t" style="left:490px;top:606px;font-size:9.6px;color:#93a4f7;">1</div><div class="t" style="left:553px;top:712.5px;font-size:9.6px;color:#ef9f99;">3.</div><div class="t" style="left:275px;top:737.7px;font-size:9.6px;color:#f5b887;">11.</div><div class="t" style="left:275px;top:746.8px;font-size:9.6px;color:#ea9fe3;">10.</div><div class="t" style="left:289px;top:756.7px;font-size:9.6px;color:#a6e6e8;">9.</div><div class="t" style="left:294px;top:766.3px;font-size:9.6px;color:#e6d39b;">8.</div><div class="t" style="left:302.5px;top:776.3px;font-size:9.6px;color:#bfe89f;">7.</div><div class="t" style="left:311px;top:786px;font-size:9.6px;color:#e7a0e2;">6.</div><div class="t" style="left:315px;top:796.3px;font-size:9.6px;color:#a3b3f7;">5.</div><div class="t" style="left:335px;top:808px;font-size:9.6px;color:#f3cf72;">4.</div><div class="a" style="left:606.4px;top:611.4px;width:11.4px;height:11.4px;border-radius:50%;background:#7d91f8"></div><div class="t" style="left:626.4px;top:611.9px;font-size:9.8px;color:#888;">1.</div><div class="a" style="left:606.4px;top:630.6px;width:11.4px;height:11.4px;border-radius:50%;background:#7dd49a"></div><div class="t" style="left:626.4px;top:631.1px;font-size:9.8px;color:#888;">2.</div><div class="a" style="left:606.4px;top:649.8px;width:11.4px;height:11.4px;border-radius:50%;background:#ee8f89"></div><div class="t" style="left:626.4px;top:650.3px;font-size:9.8px;color:#888;">3.</div><div class="a" style="left:606.4px;top:669.0px;width:11.4px;height:11.4px;border-radius:50%;background:#f6cc53"></div><div class="t" style="left:626.4px;top:669.5px;font-size:9.8px;color:#888;">4.</div><div class="a" style="left:606.4px;top:688.2px;width:11.4px;height:11.4px;border-radius:50%;background:#a3b6f8"></div><div class="t" style="left:626.4px;top:688.7px;font-size:9.8px;color:#888;">5.</div><div class="a" style="left:606.4px;top:707.4px;width:11.4px;height:11.4px;border-radius:50%;background:#e89be4"></div><div class="t" style="left:626.4px;top:707.9px;font-size:9.8px;color:#888;">6.</div><div class="a" style="left:606.4px;top:726.6px;width:11.4px;height:11.4px;border-radius:50%;background:#bde9a0"></div><div class="t" style="left:626.4px;top:727.1px;font-size:9.8px;color:#888;">7.</div><div class="a" style="left:606.4px;top:745.8px;width:11.4px;height:11.4px;border-radius:50%;background:#ebdc9f"></div><div class="t" style="left:626.4px;top:746.3px;font-size:9.8px;color:#888;">8</div><div class="a" style="left:606.4px;top:765.0px;width:11.4px;height:11.4px;border-radius:50%;background:#b3eff0"></div><div class="t" style="left:626.4px;top:765.5px;font-size:9.8px;color:#888;">9.</div><div class="t" style="left:694.5px;top:611.9px;font-size:9.8px;color:#888;">2</div><div class="t" style="left:698.7px;top:650.3px;font-size:9.8px;color:#888;">2012</div><div class="t" style="left:698.7px;top:669.5px;font-size:9.8px;color:#888;">340</div><div class="t" style="left:698.7px;top:688.7px;font-size:9.8px;color:#888;">234</div><div class="t" style="left:689.6px;top:707.9px;font-size:9.8px;color:#888;">41</div><div class="t" style="left:689.6px;top:727.1px;font-size:9.8px;color:#888;">98</div><div class="t" style="left:689.6px;top:746.3px;font-size:9.8px;color:#888;">81</div><div class="t" style="left:688.4px;top:765.5px;font-size:9.8px;color:#888;">39</div><svg class="a" style="left:0;top:0;filter:blur(1.0px)" width="1482" height="874" viewBox="0 0 1482 874"><rect x="638.0" y="608.0" width="56.0" height="12.0" fill="#e6e6e6"/><rect x="645.3" y="608.0" width="7.3" height="12.0" fill="#e0e0e0"/><rect x="659.9" y="608.0" width="7.3" height="12.0" fill="#dddddd"/><rect x="667.2" y="608.0" width="7.3" height="12.0" fill="#dedede"/><rect x="674.5" y="608.0" width="7.3" height="12.0" fill="#ededed"/><rect x="681.8" y="608.0" width="7.3" height="12.0" fill="#dfdfdf"/><rect x="640.0" y="628.0" width="52.0" height="17.0" fill="#ececec"/><rect x="640.0" y="628.0" width="7.3" height="17.0" fill="#f4f4f4"/><rect x="647.3" y="628.0" width="7.3" height="17.0" fill="#e3e3e3"/><rect x="654.6" y="628.0" width="7.3" height="17.0" fill="#f2f2f2"/><rect x="661.9" y="628.0" width="7.3" height="17.0" fill="#e8e8e8"/><rect x="669.2" y="628.0" width="7.3" height="17.0" fill="#e3e3e3"/><rect x="676.5" y="628.0" width="7.3" height="17.0" fill="#e4e4e4"/><rect x="638.0" y="649.0" width="58.0" height="12.0" fill="#e4e4e4"/><rect x="638.0" y="649.0" width="7.3" height="12.0" fill="#dcdcdc"/><rect x="652.6" y="649.0" width="7.3" height="12.0" fill="#dcdcdc"/><rect x="659.9" y="649.0" width="7.3" height="12.0" fill="#ebebeb"/><rect x="674.5" y="649.0" width="7.3" height="12.0" fill="#dbdbdb"/><rect x="681.8" y="649.0" width="7.3" height="12.0" fill="#ececec"/><rect x="689.1" y="649.0" width="6.9" height="12.0" fill="#dddddd"/><rect x="638.0" y="667.0" width="56.0" height="16.0" fill="#eeeeee"/><rect x="645.3" y="667.0" width="7.3" height="16.0" fill="#f6f6f6"/><rect x="652.6" y="667.0" width="7.3" height="16.0" fill="#e5e5e5"/><rect x="659.9" y="667.0" width="7.3" height="16.0" fill="#f6f6f6"/><rect x="667.2" y="667.0" width="7.3" height="16.0" fill="#f6f6f6"/><rect x="681.8" y="667.0" width="7.3" height="16.0" fill="#e5e5e5"/><rect x="638.0" y="687.0" width="56.0" height="14.0" fill="#e9e9e9"/><rect x="638.0" y="687.0" width="7.3" height="14.0" fill="#e0e0e0"/><rect x="645.3" y="687.0" width="7.3" height="14.0" fill="#f0f0f0"/><rect x="652.6" y="687.0" width="7.3" height="14.0" fill="#e3e3e3"/><rect x="674.5" y="687.0" width="7.3" height="14.0" fill="#e3e3e3"/><rect x="681.8" y="687.0" width="7.3" height="14.0" fill="#f0f0f0"/><rect x="689.1" y="687.0" width="4.9" height="14.0" fill="#e2e2e2"/><rect x="638.0" y="707.0" width="52.0" height="12.0" fill="#e2e2e2"/><rect x="638.0" y="707.0" width="7.3" height="12.0" fill="#eaeaea"/><rect x="652.6" y="707.0" width="7.3" height="12.0" fill="#e9e9e9"/><rect x="659.9" y="707.0" width="7.3" height="12.0" fill="#dddddd"/><rect x="667.2" y="707.0" width="7.3" height="12.0" fill="#dbdbdb"/><rect x="674.5" y="707.0" width="7.3" height="12.0" fill="#eaeaea"/><rect x="681.8" y="707.0" width="7.3" height="12.0" fill="#eaeaea"/><rect x="689.1" y="707.0" width="0.9" height="12.0" fill="#dedede"/><rect x="638.0" y="724.0" width="52.0" height="15.0" fill="#ebebeb"/><rect x="645.3" y="724.0" width="7.3" height="15.0" fill="#e4e4e4"/><rect x="652.6" y="724.0" width="7.3" height="15.0" fill="#f2f2f2"/><rect x="659.9" y="724.0" width="7.3" height="15.0" fill="#e3e3e3"/><rect x="667.2" y="724.0" width="7.3" height="15.0" fill="#f3f3f3"/><rect x="674.5" y="724.0" width="7.3" height="15.0" fill="#e2e2e2"/><rect x="681.8" y="724.0" width="7.3" height="15.0" fill="#e7e7e7"/><rect x="689.1" y="724.0" width="0.9" height="15.0" fill="#f0f0f0"/><rect x="636.0" y="746.0" width="54.0" height="13.0" fill="#eaeaea"/><rect x="636.0" y="746.0" width="7.3" height="13.0" fill="#f1f1f1"/><rect x="657.9" y="746.0" width="7.3" height="13.0" fill="#eeeeee"/><rect x="665.2" y="746.0" width="7.3" height="13.0" fill="#f2f2f2"/><rect x="672.5" y="746.0" width="7.3" height="13.0" fill="#eeeeee"/><rect x="638.0" y="764.0" width="48.0" height="13.0" fill="#e5e5e5"/><rect x="645.3" y="764.0" width="7.3" height="13.0" fill="#e0e0e0"/><rect x="659.9" y="764.0" width="7.3" height="13.0" fill="#dddddd"/><rect x="667.2" y="764.0" width="7.3" height="13.0" fill="#ededed"/><rect x="681.8" y="764.0" width="4.2" height="13.0" fill="#ebebeb"/></svg><svg class="a" style="left:686px;top:790px" width="46" height="11" viewBox="686 790 46 11"><path d="M688.4,799.7 L692.95,791.8 L697.5,799.7 Z" fill="#bdbdbd"/><path d="M722,791.8 L730.7,791.8 L726.35,799.7 Z" fill="#5c74f0"/></svg><div class="t" style="left:702.3px;top:790.8px;font-size:10px;color:#555;">1/3</div><svg class="a" style="left:0;top:0" width="1482" height="874" viewBox="0 0 1482 874"><line x1="942" y1="739.1" x2="1439" y2="739.1" stroke="#efefef" stroke-width="1"/><line x1="942" y1="714.2" x2="1439" y2="714.2" stroke="#efefef" stroke-width="1"/><line x1="942" y1="689.3" x2="1439" y2="689.3" stroke="#efefef" stroke-width="1"/><line x1="942" y1="664.4" x2="1439" y2="664.4" stroke="#efefef" stroke-width="1"/><line x1="942" y1="639.5" x2="1439" y2="639.5" stroke="#efefef" stroke-width="1"/><line x1="942" y1="614.6" x2="1439" y2="614.6" stroke="#efefef" stroke-width="1"/><line x1="942" y1="589.7" x2="1439" y2="589.7" stroke="#efefef" stroke-width="1"/><line x1="977.5" y1="589.7" x2="977.5" y2="764" stroke="#efefef" stroke-width="1"/><line x1="1013.0" y1="589.7" x2="1013.0" y2="764" stroke="#efefef" stroke-width="1"/><line x1="1048.5" y1="589.7" x2="1048.5" y2="764" stroke="#efefef" stroke-width="1"/><line x1="1084.0" y1="589.7" x2="1084.0" y2="764" stroke="#efefef" stroke-width="1"/><line x1="1119.5" y1="589.7" x2="1119.5" y2="764" stroke="#efefef" stroke-width="1"/><line x1="1155.0" y1="589.7" x2="1155.0" y2="764" stroke="#efefef" stroke-width="1"/><line x1="1190.5" y1="589.7" x2="1190.5" y2="764" stroke="#efefef" stroke-width="1"/><line x1="1226.0" y1="589.7" x2="1226.0" y2="764" stroke="#efefef" stroke-width="1"/><line x1="1261.5" y1="589.7" x2="1261.5" y2="764" stroke="#efefef" stroke-width="1"/><line x1="1297.0" y1="589.7" x2="1297.0" y2="764" stroke="#efefef" stroke-width="1"/><line x1="1332.5" y1="589.7" x2="1332.5" y2="764" stroke="#efefef" stroke-width="1"/><line x1="1368.0" y1="589.7" x2="1368.0" y2="764" stroke="#efefef" stroke-width="1"/><line x1="1403.5" y1="589.7" x2="1403.5" y2="764" stroke="#efefef" stroke-width="1"/><line x1="1439.0" y1="589.7" x2="1439.0" y2="764" stroke="#efefef" stroke-width="1"/><rect x="950.9" y="763.8" width="17.8" height="0.2" fill="#8095fa"/><rect x="986.4" y="755.0" width="17.8" height="9.0" fill="#8095fa"/><rect x="1021.9" y="730.6" width="17.8" height="33.4" fill="#8095fa"/><rect x="1057.3" y="763.0" width="17.8" height="1.0" fill="#8095fa"/><rect x="1092.8" y="755.7" width="17.8" height="8.3" fill="#8095fa"/><rect x="1128.3" y="754.6" width="17.8" height="9.4" fill="#8095fa"/><rect x="1163.8" y="761.5" width="17.8" height="2.5" fill="#8095fa"/><rect x="1234.8" y="762.3" width="17.8" height="1.7" fill="#8095fa"/><rect x="1270.3" y="604.2" width="17.8" height="159.8" fill="#8095fa"/><rect x="1305.8" y="763.5" width="17.8" height="0.5" fill="#8095fa"/><rect x="1341.3" y="755.3" width="17.8" height="8.7" fill="#8095fa"/><rect x="1376.8" y="756.9" width="17.8" height="7.1" fill="#8095fa"/><rect x="1412.3" y="761.5" width="17.8" height="2.5" fill="#8095fa"/><line x1="942" y1="589.7" x2="942" y2="764" stroke="#dcdcdc" stroke-width="1.2"/><line x1="942" y1="764" x2="1439" y2="764" stroke="#dcdcdc" stroke-width="1.2"/></svg><div class="t" style="left:880px;width:55.5px;text-align:right;top:758.8px;font-size:10px;color:#999">0</div><div class="t" style="left:880px;width:55.5px;text-align:right;top:733.9px;font-size:10px;color:#999">3,000</div><div class="t" style="left:880px;width:55.5px;text-align:right;top:709.0px;font-size:10px;color:#999">6,000</div><div class="t" style="left:880px;width:55.5px;text-align:right;top:684.1px;font-size:10px;color:#999">9,000</div><div class="t" style="left:880px;width:55.5px;text-align:right;top:659.2px;font-size:10px;color:#999">12,000</div><div class="t" style="left:880px;width:55.5px;text-align:right;top:634.3px;font-size:10px;color:#999">15,000</div><div class="t" style="left:880px;width:55.5px;text-align:right;top:609.4px;font-size:10px;color:#999">18,000</div><div class="t" style="left:880px;width:55.5px;text-align:right;top:584.5px;font-size:10px;color:#999">21,000</div><div class="t" style="right:525.2px;top:767.2px;font-size:8.5px;color:#8c8c8c;transform:rotate(-30deg);transform-origin:100% 0">土地、房屋及构筑物</div><div class="t" style="right:489.8px;top:767.2px;font-size:8.5px;color:#8c8c8c;transform:rotate(-30deg);transform-origin:100% 0">设备类</div><div class="t" style="right:454.2px;top:767.2px;font-size:8.5px;color:#8c8c8c;transform:rotate(-30deg);transform-origin:100% 0">设施类</div><div class="t" style="right:418.8px;top:767.2px;font-size:8.5px;color:#8c8c8c;transform:rotate(-30deg);transform-origin:100% 0">交通运输设备</div><div class="t" style="right:383.2px;top:767.2px;font-size:8.5px;color:#8c8c8c;transform:rotate(-30deg);transform-origin:100% 0">教学器材类</div><div class="t" style="right:347.8px;top:767.2px;font-size:8.5px;color:#8c8c8c;transform:rotate(-30deg);transform-origin:100% 0">电子产品及通信设备</div><div class="t" style="right:312.2px;top:767.2px;font-size:8.5px;color:#8c8c8c;transform:rotate(-30deg);transform-origin:100% 0">维修工具类</div><div class="t" style="right:276.8px;top:767.2px;font-size:8.5px;color:#8c8c8c;transform:rotate(-30deg);transform-origin:100% 0">服装类</div><div class="t" style="right:241.2px;top:767.2px;font-size:8.5px;color:#8c8c8c;transform:rotate(-30deg);transform-origin:100% 0">图书文物及陈列品</div><div class="t" style="right:205.8px;top:767.2px;font-size:8.5px;color:#8c8c8c;transform:rotate(-30deg);transform-origin:100% 0">家具类</div><div class="t" style="right:170.2px;top:767.2px;font-size:8.5px;color:#8c8c8c;transform:rotate(-30deg);transform-origin:100% 0">教学家具类</div><div class="t" style="right:134.8px;top:767.2px;font-size:8.5px;color:#8c8c8c;transform:rotate(-30deg);transform-origin:100% 0">电器类</div><div class="t" style="right:99.2px;top:767.2px;font-size:8.5px;color:#8c8c8c;transform:rotate(-30deg);transform-origin:100% 0">日常办公耐用品类</div><div class="t" style="right:63.8px;top:767.2px;font-size:8.5px;color:#8c8c8c;transform:rotate(-30deg);transform-origin:100% 0">其他类</div></body></html>
